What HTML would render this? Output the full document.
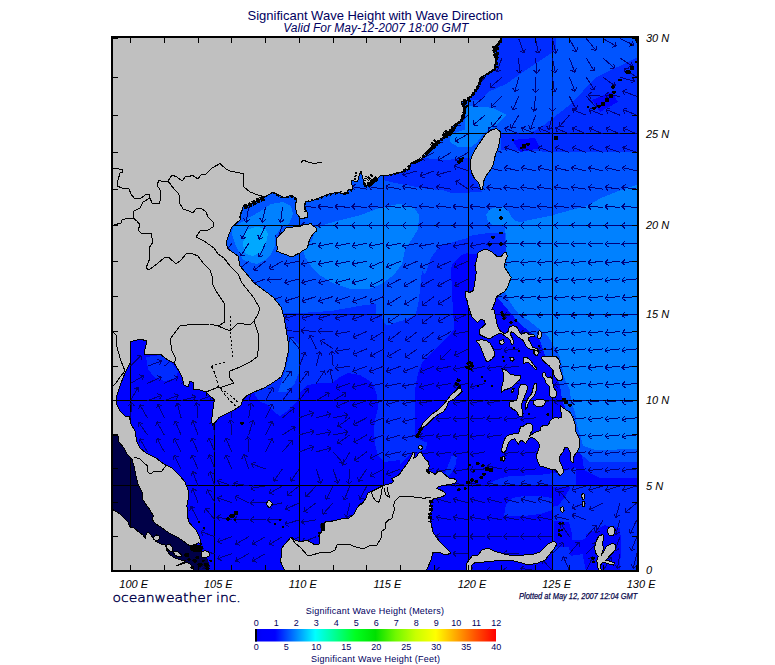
<!DOCTYPE html>
<html lang="en"><head><meta charset="utf-8"><title>Significant Wave Height with Wave Direction</title>
<style>
html,body{margin:0;padding:0;background:#fff}
body{width:775px;height:665px;overflow:hidden;position:relative;font-family:"Liberation Sans",sans-serif}
svg{position:absolute;left:0;top:0;display:block}
.t{font-family:"Liberation Sans",sans-serif}
.lab{font-size:11px;font-style:italic;fill:#000}
.cb{font-size:9px;fill:#000060}
.land{fill:#c0c0c0;stroke:#000;stroke-width:1;stroke-linejoin:round}
.bd{fill:none;stroke:#000;stroke-width:1;stroke-linejoin:round;stroke-linecap:round}
.blk{fill:#000;stroke:#000;stroke-width:1;stroke-linejoin:round}
.grid{stroke:#000;stroke-width:1;fill:none}
.ar{stroke:#00007a;stroke-width:1;fill:none;stroke-linecap:butt}
.ow{font-family:"DejaVu Sans","Liberation Sans",sans-serif;font-weight:200}
.tick{stroke:#000;stroke-width:1;fill:none}
</style></head><body>
<svg width="775" height="665" viewBox="0 0 775 665">
<defs><clipPath id="mapclip"><rect x="112" y="37" width="526" height="534"/></clipPath>
<linearGradient id="cbg" x1="0" x2="1" y1="0" y2="0"><stop offset="0.0000" stop-color="#0000ec"/><stop offset="0.0292" stop-color="#0000fc"/><stop offset="0.0833" stop-color="#0000ff"/><stop offset="0.1667" stop-color="#0080ff"/><stop offset="0.2500" stop-color="#00ffff"/><stop offset="0.3333" stop-color="#00ff90"/><stop offset="0.4167" stop-color="#00ff20"/><stop offset="0.5000" stop-color="#00e000"/><stop offset="0.5833" stop-color="#70f800"/><stop offset="0.6667" stop-color="#c8ff00"/><stop offset="0.7500" stop-color="#ffff00"/><stop offset="0.8333" stop-color="#ffa800"/><stop offset="0.9167" stop-color="#ff5000"/><stop offset="1.0000" stop-color="#ff0000"/></linearGradient></defs>
<rect x="0" y="0" width="775" height="665" fill="#fff"/>
<g clip-path="url(#mapclip)" shape-rendering="crispEdges">
<rect x="112" y="37" width="526" height="534" fill="#0003ff"/>
<g shape-rendering="crispEdges">
<polygon fill="#002cff" points="230,150 230,300 255,395 260,402 266,404 274,412 280,416 286,412 292,406 298,400 300,392 308,385 320,383 332,383 340,377 348,373 360,375 368,380 374,386 377,396 378,408 375,420 374,430 375,444 378,456 384,462 400,460 408,454 415,448 415,390 418,373 422,363 428,356.7 437.4,347.4 446.7,338 454.5,329 453,313 451,270 452,264 462,255 474,250 490,262 520,270 530,320 548,345 566,380 570,405 580,440 584,470 600,478 640,478 640,30 400,30"/>
<polygon fill="#002cff" points="490,483 500,478.4 510,476 540,475 560,472 576,468 576,485 552,485 490,485"/>
<polygon fill="#002cff" points="504,516 506,504 512,498 524,496 540,496 552,498 552,510 540,514 524,516"/>
<polygon fill="#002cff" points="451.7,455.6 456.9,456.9 455.6,464.7 451.7,472.4 446.6,477.6 444.6,473.7 447.9,466"/>
<polygon fill="#002cff" points="400,416.8 407.8,418.1 411.6,425.9 414.2,436.2 420.7,440.1 427.2,442.7 425.9,449.2 419.4,451.7 412.9,451.7 407.8,456.9 400,464.7"/>
<polygon fill="#002cff" points="146,357 160,355 170,361 178,371 176,379 164,381 154,377 148,369"/>
<polygon fill="#002cff" points="553,485 640,485 640,572 553,572"/>
<polygon fill="#0003ff" points="552.3,486.9 570.7,486.9 564.5,497.6 558.4,505.3 552.3,506.8"/>
<polygon fill="#0003ff" points="553.8,520.6 569.1,522.1 572.2,534.4 570.7,546.7 553.8,546.7"/>
<polygon fill="#0003ff" points="567.6,540.6 590.6,539 592.1,552.8 570.7,555.9"/>
<polygon fill="#0003ff" points="586,534.4 604.4,525.2 619.8,528.3 621.3,542.1 619.8,572 586,572 582.9,555.9"/>
<polygon fill="#0054ff" points="225,190 225,260 250,290 280,313 300,313 331,311 365,305 375.5,304 375.5,313.4 381.7,314.9 383.2,322.6 387.9,325.7 395.6,322.6 406.5,319.5 415.7,314.9 418.8,301 420.4,285.5 422,270 425,275 430.7,258 439.2,246.6 456.2,241 467.6,238.1 479,246.6 485,252 500,256 506,250 500,212 640,212 640,152 600,152 555,152 501,150 501,133 530,133 540,128 553,118 571,104 595,78 640,56 640,30 400,30 400,150 300,150"/>
<polygon fill="#0054ff" points="500,212 640,212 640,462 590,462 578,452 570,420 562,400 560,385 545,355 540,340 520,324 508,310 498,298 495,285 500,262"/>
<polygon fill="#002cff" points="480,100 470,100 495,60 500,37 556,37 556,50 523,72 506,84 488,92"/>
<polygon fill="#002cff" points="383,176 400,165 424,158 445,160 470,158 471,170 476,180 480,189 482,192 467.6,192.6 450.6,192.6 442,190 427.8,189 411.3,186 394.8,183 383.4,180"/>
<polygon fill="#0054ff" points="284,335 292,338 300,345 300,370 294,385 286,392 278,392 284,375 289,355"/>
<polygon fill="#0081ff" points="317,226.7 336.9,221.1 359.6,215.4 382.3,206.9 399.4,204 413.6,206.9 419.3,215.4 417.9,229.6 410.8,241 405.1,249.5 402.2,263.7 393.7,275.1 382.3,283.6 368.1,289.3 351.1,289.3 334,283.6 319.8,275.1 311.3,266.5 305.6,258 302.7,249.5 311.3,241 315.5,232.4"/>
<polygon fill="#0081ff" points="505.3,252 505.9,241.7 505.3,228.8 506.6,225 495,226 488,222 486,214.6 489.8,209.4 497.5,206.8 504,207.5 509.2,212 511.7,217.2 515.6,221 520.8,222.3 529,220 550,216 560,213 575,209 586.6,206 602,197.6 620,190.5 640,184 640,449 595,450 583,446 581,438 577,425 575,412 571,402 570,390 566,382 563.5,376 562,366 559.5,356 548,336 528,320 520.8,316.3 514.3,308.6 509.2,300.8 504.6,291.7 500,285 500,256"/>
<polygon fill="#0081ff" points="468.1,105.5 492.9,107.9 506.8,114.8 492.9,128 483.6,133.4 477.4,141.9 471.2,147.4 458.8,147.4 449.6,141.9 451.1,134.2 465,129.5 465.8,111"/>
<polygon fill="#0081ff" points="237,225 245,220 259,212 271,204 283,202 291,206 293,214 289,224 281,228 275,236 275,246 271,254 265,260 257,264 249,262 243,260 239,252 235,244 232,234 233,227"/>
<polygon fill="#00a8ff" points="247,230 255,227 265,228 268,234 266,244 261,252 253,256 246,254 243,246 244,236"/>
<polygon fill="#0003ff" points="512,140 535,138 540,148 520,152"/>
<polygon fill="#0003ff" points="592,100 612,92 618,102 600,112"/>
<polygon fill="#000048" points="110,430 125,430 140,450 160,500 170,530 190,546 196,549 200,553 207,558 210,566 206,575 110,575"/>
<polygon fill="#002cff" points="469,236 488,233 505,233 506,252 500,258 494,254 485,251 478,254 469,254"/>
</g>
<path class="grid" shape-rendering="crispEdges" d="M130.5 37V571 M214.9 37V571 M299.3 37V571 M383.7 37V571 M468.1 37V571 M552.5 37V571 M112 485.9H638 M112 400.6H638 M112 314.1H638 M112 225.4H638 M112 133.9H638"/>
<path class="ar" shape-rendering="crispEdges" d="M130.5 417.8L131.9 402.6M131.9 402.6l2.8 3.7M131.9 402.6l-3.4 3.1M130.5 400.6L138.1 387.5M138.1 387.5l1.0 4.5M138.1 387.5l-4.4 1.4M130.5 383.4L143.7 375.8M143.7 375.8l-1.4 4.4M143.7 375.8l-4.5 -1.0M130.5 366.2L141.2 355.5M141.2 355.5l-0.2 4.6M141.2 355.5l-4.6 0.2M147.4 451.9L139.9 438.7M139.9 438.7l4.4 1.5M139.9 438.7l-1.0 4.5M147.4 434.9L138.7 422.4M138.7 422.4l4.5 1.0M138.7 422.4l-0.6 4.6M147.4 417.8L139.8 404.6M139.8 404.6l4.4 1.4M139.8 404.6l-1.0 4.5M147.4 400.6L161.7 395.4M161.7 395.4l-2.2 4.1M161.7 395.4l-4.3 -1.7M147.4 383.4L161.2 377.0M161.2 377.0l-1.8 4.2M161.2 377.0l-4.4 -1.3M147.4 366.2L161.7 361.0M161.7 361.0l-2.2 4.1M161.7 361.0l-4.3 -1.7M164.3 451.9L157.1 438.5M157.1 438.5l4.3 1.6M157.1 438.5l-1.1 4.5M164.3 434.9L156.7 421.7M156.7 421.7l4.4 1.4M156.7 421.7l-1.0 4.5M164.3 417.8L157.8 404.0M157.8 404.0l4.2 1.8M157.8 404.0l-1.3 4.4M164.3 400.6L178.5 395.4M178.5 395.4l-2.2 4.1M178.5 395.4l-4.3 -1.7M164.3 383.4L178.0 377.0M178.0 377.0l-1.8 4.2M178.0 377.0l-4.4 -1.3M164.3 366.2L175.9 356.4M175.9 356.4l-0.6 4.6M175.9 356.4l-4.6 -0.2M181.1 468.9L174.2 455.4M174.2 455.4l4.3 1.6M174.2 455.4l-1.2 4.4M181.1 451.9L174.2 438.4M174.2 438.4l4.3 1.6M174.2 438.4l-1.2 4.4M181.1 434.9L175.0 421.0M175.0 421.0l4.2 1.9M175.0 421.0l-1.4 4.4M181.1 417.8L177.2 403.1M177.2 403.1l3.9 2.5M177.2 403.1l-2.1 4.1M181.1 400.6L195.8 396.7M195.8 396.7l-2.5 3.9M195.8 396.7l-4.1 -2.1M181.1 383.4L195.4 378.2M195.4 378.2l-2.2 4.1M195.4 378.2l-4.3 -1.7M198.0 519.8L190.9 506.4M190.9 506.4l4.3 1.6M190.9 506.4l-1.1 4.5M198.0 502.8L192.8 488.6M192.8 488.6l4.1 2.2M192.8 488.6l-1.7 4.3M198.0 485.9L192.8 471.6M192.8 471.6l4.1 2.2M192.8 471.6l-1.7 4.3M198.0 468.9L191.8 455.0M191.8 455.0l4.2 1.9M191.8 455.0l-1.4 4.4M198.0 451.9L191.8 438.0M191.8 438.0l4.2 1.9M191.8 438.0l-1.4 4.4M198.0 434.9L192.8 420.6M192.8 420.6l4.1 2.2M192.8 420.6l-1.7 4.3M198.0 417.8L196.7 402.6M196.7 402.6l3.4 3.1M196.7 402.6l-2.8 3.7M198.0 400.6L212.3 395.4M212.3 395.4l-2.2 4.1M212.3 395.4l-4.3 -1.7M214.9 570.5L199.8 569.2M199.8 569.2l3.7 -2.8M199.8 569.2l3.1 3.4M214.9 553.6L199.9 551.0M199.9 551.0l3.9 -2.4M199.9 551.0l2.8 3.6M214.9 536.7L200.6 531.5M200.6 531.5l4.3 -1.7M200.6 531.5l2.2 4.1M214.9 519.8L205.1 508.1M205.1 508.1l4.6 0.6M205.1 508.1l-0.2 4.6M214.9 502.8L207.3 489.7M207.3 489.7l4.4 1.4M207.3 489.7l-1.0 4.5M214.9 485.9L209.7 471.6M209.7 471.6l4.1 2.2M209.7 471.6l-1.7 4.3M214.9 468.9L209.2 454.8M209.2 454.8l4.1 2.0M209.2 454.8l-1.6 4.3M214.9 451.9L208.7 438.0M208.7 438.0l4.2 1.9M208.7 438.0l-1.4 4.4M214.9 434.9L212.3 419.9M212.3 419.9l3.6 2.8M212.3 419.9l-2.4 3.9M231.8 570.5L217.1 574.4M217.1 574.4l2.5 -3.9M217.1 574.4l4.1 2.1M231.8 553.6L217.5 558.8M217.5 558.8l2.2 -4.1M217.5 558.8l4.3 1.7M231.8 536.7L217.5 541.9M217.5 541.9l2.2 -4.1M217.5 541.9l4.3 1.7M231.8 519.8L216.8 517.1M216.8 517.1l3.9 -2.4M216.8 517.1l2.8 3.6M231.8 502.8L217.5 497.6M217.5 497.6l4.3 -1.7M217.5 497.6l2.2 4.1M231.8 485.9L217.5 480.7M217.5 480.7l4.3 -1.7M217.5 480.7l2.2 4.1M231.8 468.9L225.8 454.9M225.8 454.9l4.2 1.9M225.8 454.9l-1.5 4.3M231.8 451.9L225.8 437.9M225.8 437.9l4.2 1.9M225.8 437.9l-1.5 4.3M231.8 434.9L230.7 419.7M230.7 419.7l3.3 3.2M230.7 419.7l-2.8 3.6M231.8 417.8L231.2 402.6M231.2 402.6l3.2 3.3M231.2 402.6l-3.0 3.5M231.8 243.3L223.1 255.9M223.1 255.9l-0.6 -4.6M223.1 255.9l4.5 -1.1M248.7 570.5L234.9 577.0M234.9 577.0l1.8 -4.2M234.9 577.0l4.4 1.3M248.7 553.6L235.5 561.2M235.5 561.2l1.4 -4.4M235.5 561.2l4.5 1.0M248.7 536.7L235.5 544.3M235.5 544.3l1.4 -4.4M235.5 544.3l4.5 1.0M248.7 519.8L233.5 519.8M233.5 519.8l3.4 -3.1M233.5 519.8l3.4 3.1M248.7 502.8L235.0 496.2M235.0 496.2l4.4 -1.3M235.0 496.2l1.7 4.3M248.7 485.9L233.7 483.3M233.7 483.3l3.9 -2.4M233.7 483.3l2.8 3.6M248.7 468.9L243.7 454.5M243.7 454.5l4.0 2.2M243.7 454.5l-1.8 4.2M248.7 451.9L247.9 436.7M247.9 436.7l3.3 3.3M247.9 436.7l-2.9 3.6M248.7 434.9L253.1 420.3M253.1 420.3l1.9 4.2M253.1 420.3l-3.9 2.4M248.7 417.8L251.3 402.8M251.3 402.8l2.4 3.9M251.3 402.8l-3.6 2.8M248.7 400.6L253.4 386.2M253.4 386.2l1.9 4.2M253.4 386.2l-4.0 2.3M248.7 261.2L237.0 270.9M237.0 270.9l0.6 -4.6M237.0 270.9l4.6 0.2M248.7 243.3L240.6 256.2M240.6 256.2l-0.8 -4.5M240.6 256.2l4.4 -1.3M248.7 225.4L241.8 239.0M241.8 239.0l-1.2 -4.4M241.8 239.0l4.3 -1.6M248.7 207.4L246.0 222.3M246.0 222.3l-2.4 -3.9M246.0 222.3l3.6 -2.8M265.5 570.5L252.1 577.6M252.1 577.6l1.6 -4.3M252.1 577.6l4.5 1.1M265.5 553.6L252.4 561.2M252.4 561.2l1.4 -4.4M252.4 561.2l4.5 1.0M265.5 536.7L252.4 544.3M252.4 544.3l1.4 -4.4M252.4 544.3l4.5 1.0M265.5 519.8L250.3 519.8M250.3 519.8l3.4 -3.1M250.3 519.8l3.4 3.1M265.5 502.8L250.3 502.8M250.3 502.8l3.4 -3.1M250.3 502.8l3.4 3.1M265.5 485.9L250.6 488.5M250.6 488.5l2.8 -3.6M250.6 488.5l3.9 2.4M265.5 468.9L251.3 463.7M251.3 463.7l4.3 -1.7M251.3 463.7l2.2 4.1M265.5 451.9L272.4 438.4M272.4 438.4l1.2 4.4M272.4 438.4l-4.3 1.6M265.5 434.9L272.4 421.3M272.4 421.3l1.2 4.4M272.4 421.3l-4.3 1.6M265.5 417.8L272.4 404.2M272.4 404.2l1.2 4.4M272.4 404.2l-4.3 1.6M265.5 400.6L272.9 387.3M272.9 387.3l1.0 4.5M272.9 387.3l-4.3 1.5M265.5 278.9L251.3 284.1M251.3 284.1l2.2 -4.1M251.3 284.1l4.3 1.7M265.5 261.2L253.6 270.5M253.6 270.5l0.8 -4.5M253.6 270.5l4.6 0.3M265.5 243.3L259.1 257.1M259.1 257.1l-1.3 -4.4M259.1 257.1l4.2 -1.8M265.5 225.4L259.1 239.2M259.1 239.2l-1.3 -4.4M259.1 239.2l4.2 -1.8M265.5 207.4L262.1 222.2M262.1 222.2l-2.2 -4.0M262.1 222.2l3.8 -2.6M282.4 570.5L269.0 577.7M269.0 577.7l1.5 -4.3M269.0 577.7l4.5 1.1M282.4 536.7L269.4 544.5M269.4 544.5l1.3 -4.4M269.4 544.5l4.5 0.9M282.4 519.8L267.2 519.8M267.2 519.8l3.4 -3.1M267.2 519.8l3.4 3.1M282.4 502.8L267.6 506.3M267.6 506.3l2.6 -3.8M267.6 506.3l4.0 2.2M282.4 485.9L269.3 493.5M269.3 493.5l1.4 -4.4M269.3 493.5l4.5 1.0M282.4 468.9L273.7 481.4M273.7 481.4l-0.6 -4.6M273.7 481.4l4.5 -1.0M282.4 451.9L292.4 440.4M292.4 440.4l0.1 4.6M292.4 440.4l-4.6 0.6M282.4 434.9L295.3 426.8M295.3 426.8l-1.3 4.4M295.3 426.8l-4.5 -0.8M282.4 417.8L294.1 408.0M294.1 408.0l-0.6 4.6M294.1 408.0l-4.6 -0.2M282.4 400.6L291.6 388.5M291.6 388.5l0.4 4.6M291.6 388.5l-4.5 0.9M282.4 383.4L291.1 371.0M291.1 371.0l0.6 4.6M291.1 371.0l-4.5 1.0M282.4 296.5L268.0 301.2M268.0 301.2l2.3 -4.0M268.0 301.2l4.2 1.9M282.4 278.9L267.3 279.9M267.3 279.9l3.2 -3.3M267.3 279.9l3.6 2.8M282.4 261.2L269.3 268.8M269.3 268.8l1.4 -4.4M269.3 268.8l4.5 1.0M282.4 225.4L277.2 239.7M277.2 239.7l-1.7 -4.3M277.2 239.7l4.1 -2.2M282.4 207.4L280.6 222.5M280.6 222.5l-2.6 -3.8M280.6 222.5l3.5 -3.0M299.3 536.7L286.1 544.3M286.1 544.3l1.4 -4.4M286.1 544.3l4.5 1.0M299.3 519.8L284.8 524.5M284.8 524.5l2.3 -4.0M284.8 524.5l4.2 1.9M299.3 502.8L285.5 509.3M285.5 509.3l1.8 -4.2M285.5 509.3l4.4 1.3M299.3 485.9L287.3 495.3M287.3 495.3l0.8 -4.5M287.3 495.3l4.6 0.3M299.3 468.9L290.6 481.4M290.6 481.4l-0.6 -4.6M290.6 481.4l4.5 -1.0M299.3 451.9L313.6 446.7M313.6 446.7l-2.2 4.1M313.6 446.7l-4.3 -1.7M299.3 434.9L314.0 430.9M314.0 430.9l-2.5 3.9M314.0 430.9l-4.1 -2.1M299.3 417.8L313.6 412.6M313.6 412.6l-2.2 4.1M313.6 412.6l-4.3 -1.7M299.3 400.6L308.4 388.5M308.4 388.5l0.4 4.6M308.4 388.5l-4.5 0.9M299.3 383.4L308.4 371.3M308.4 371.3l0.4 4.6M308.4 371.3l-4.5 0.9M299.3 366.2L305.0 352.1M305.0 352.1l1.6 4.3M305.0 352.1l-4.1 2.0M299.3 348.9L289.7 337.1M289.7 337.1l4.5 0.7M289.7 337.1l-0.2 4.6M299.3 331.5L284.1 330.4M284.1 330.4l3.6 -2.8M284.1 330.4l3.2 3.3M299.3 314.1L284.8 318.5M284.8 318.5l2.4 -3.9M284.8 318.5l4.2 1.9M299.3 296.5L284.8 301.2M284.8 301.2l2.3 -4.0M284.8 301.2l4.2 1.9M299.3 278.9L284.6 282.8M284.6 282.8l2.5 -3.9M284.6 282.8l4.1 2.1M299.3 261.2L284.4 264.1M284.4 264.1l2.8 -3.7M284.4 264.1l3.9 2.4M316.2 536.7L302.1 542.4M302.1 542.4l2.0 -4.1M302.1 542.4l4.3 1.6M316.2 519.8L301.2 522.4M301.2 522.4l2.8 -3.6M301.2 522.4l3.9 2.4M316.2 502.8L303.9 511.8M303.9 511.8l1.0 -4.5M303.9 511.8l4.6 0.5M316.2 485.9L305.8 497.0M305.8 497.0l0.1 -4.6M305.8 497.0l4.6 -0.4M316.2 468.9L320.9 483.4M320.9 483.4l-4.0 -2.3M320.9 483.4l1.9 -4.2M316.2 451.9L330.9 448.0M330.9 448.0l-2.5 3.9M330.9 448.0l-4.1 -2.1M316.2 434.9L331.0 431.7M331.0 431.7l-2.7 3.7M331.0 431.7l-4.0 -2.3M316.2 417.8L330.9 413.8M330.9 413.8l-2.5 3.9M330.9 413.8l-4.1 -2.1M316.2 400.6L329.2 392.8M329.2 392.8l-1.3 4.4M329.2 392.8l-4.5 -0.9M316.2 383.4L324.7 370.8M324.7 370.8l0.6 4.6M324.7 370.8l-4.5 1.1M316.2 366.2L319.9 351.5M319.9 351.5l2.2 4.1M319.9 351.5l-3.8 2.6M316.2 348.9L309.8 335.1M309.8 335.1l4.2 1.8M309.8 335.1l-1.3 4.4M316.2 331.5L301.0 330.4M301.0 330.4l3.6 -2.8M301.0 330.4l3.2 3.3M316.2 314.1L301.6 318.5M301.6 318.5l2.4 -3.9M301.6 318.5l4.2 1.9M316.2 296.5L301.7 301.2M301.7 301.2l2.3 -4.0M301.7 301.2l4.2 1.9M316.2 278.9L301.5 282.8M301.5 282.8l2.5 -3.9M301.5 282.8l4.1 2.1M316.2 261.2L301.3 264.1M301.3 264.1l2.8 -3.7M301.3 264.1l3.9 2.4M316.2 243.3L301.3 246.2M301.3 246.2l2.8 -3.7M301.3 246.2l3.9 2.4M316.2 225.4L301.0 225.4M301.0 225.4l3.4 -3.1M301.0 225.4l3.4 3.1M316.2 207.4L301.0 206.3M301.0 206.3l3.6 -2.8M301.0 206.3l3.2 3.3M333.1 519.8L319.9 527.4M319.9 527.4l1.4 -4.4M319.9 527.4l4.5 1.0M333.1 502.8L322.9 514.1M322.9 514.1l0.0 -4.6M322.9 514.1l4.6 -0.5M333.1 485.9L326.2 499.4M326.2 499.4l-1.2 -4.4M326.2 499.4l4.3 -1.6M333.1 468.9L338.0 483.3M338.0 483.3l-4.0 -2.2M338.0 483.3l1.8 -4.2M333.1 451.9L343.2 463.2M343.2 463.2l-4.6 -0.5M343.2 463.2l-0.0 -4.6M333.1 434.9L348.0 432.0M348.0 432.0l-2.8 3.7M348.0 432.0l-3.9 -2.4M333.1 417.8L348.0 414.9M348.0 414.9l-2.8 3.7M348.0 414.9l-3.9 -2.4M333.1 400.6L346.1 392.8M346.1 392.8l-1.3 4.4M346.1 392.8l-4.5 -0.9M333.1 383.4L329.6 368.6M329.6 368.6l3.8 2.6M329.6 368.6l-2.2 4.0M333.1 366.2L331.7 351.1M331.7 351.1l3.4 3.1M331.7 351.1l-2.8 3.7M333.1 348.9L320.6 340.2M320.6 340.2l4.6 -0.6M320.6 340.2l1.0 4.5M333.1 331.5L317.9 331.0M317.9 331.0l3.5 -3.0M317.9 331.0l3.3 3.2M333.1 314.1L318.5 318.5M318.5 318.5l2.4 -3.9M318.5 318.5l4.2 1.9M333.1 296.5L318.6 301.2M318.6 301.2l2.3 -4.0M318.6 301.2l4.2 1.9M333.1 278.9L318.4 282.8M318.4 282.8l2.5 -3.9M318.4 282.8l4.1 2.1M333.1 261.2L318.1 264.1M318.1 264.1l2.8 -3.7M318.1 264.1l3.9 2.4M333.1 243.3L318.1 246.2M318.1 246.2l2.8 -3.7M318.1 246.2l3.9 2.4M333.1 225.4L317.9 225.4M317.9 225.4l3.4 -3.1M317.9 225.4l3.4 3.1M333.1 207.4L317.9 206.3M317.9 206.3l3.6 -2.8M317.9 206.3l3.2 3.3M349.9 502.8L346.5 517.7M346.5 517.7l-2.2 -4.0M346.5 517.7l3.8 -2.6M349.9 485.9L344.2 500.0M344.2 500.0l-1.6 -4.3M344.2 500.0l4.1 -2.0M349.9 468.9L348.6 484.1M348.6 484.1l-2.8 -3.7M348.6 484.1l3.4 -3.1M349.9 451.9L342.3 465.1M342.3 465.1l-1.0 -4.5M342.3 465.1l4.4 -1.4M349.9 434.9L337.5 443.6M337.5 443.6l1.0 -4.5M337.5 443.6l4.6 0.6M349.9 417.8L337.6 426.7M337.6 426.7l1.0 -4.5M337.6 426.7l4.6 0.5M349.9 400.6L336.1 406.8M336.1 406.8l1.9 -4.2M336.1 406.8l4.4 1.4M349.9 383.4L335.6 388.4M335.6 388.4l2.2 -4.0M335.6 388.4l4.2 1.8M349.9 366.2L334.9 368.3M334.9 368.3l3.0 -3.5M334.9 368.3l3.8 2.6M349.9 348.9L334.9 351.3M334.9 351.3l2.9 -3.6M334.9 351.3l3.9 2.5M349.9 331.5L335.0 334.1M335.0 334.1l2.8 -3.6M335.0 334.1l3.9 2.4M349.9 314.1L335.4 318.5M335.4 318.5l2.4 -3.9M335.4 318.5l4.2 1.9M349.9 296.5L335.5 301.2M335.5 301.2l2.3 -4.0M335.5 301.2l4.2 1.9M349.9 278.9L335.3 282.8M335.3 282.8l2.5 -3.9M335.3 282.8l4.1 2.1M349.9 261.2L335.0 264.1M335.0 264.1l2.8 -3.7M335.0 264.1l3.9 2.4M349.9 243.3L335.0 246.2M335.0 246.2l2.8 -3.7M335.0 246.2l3.9 2.4M349.9 225.4L334.7 225.4M334.7 225.4l3.4 -3.1M334.7 225.4l3.4 3.1M349.9 207.4L334.8 206.3M334.8 206.3l3.6 -2.8M334.8 206.3l3.2 3.3M366.8 485.9L359.9 499.4M359.9 499.4l-1.2 -4.4M359.9 499.4l4.3 -1.6M366.8 468.9L358.3 481.5M358.3 481.5l-0.6 -4.6M358.3 481.5l4.5 -1.1M366.8 451.9L354.5 460.8M354.5 460.8l1.0 -4.5M354.5 460.8l4.6 0.5M366.8 434.9L353.7 442.5M353.7 442.5l1.4 -4.4M353.7 442.5l4.5 1.0M366.8 417.8L353.3 424.7M353.3 424.7l1.6 -4.3M353.3 424.7l4.4 1.2M366.8 400.6L352.4 405.6M352.4 405.6l2.2 -4.0M352.4 405.6l4.2 1.8M366.8 383.4L352.1 387.4M352.1 387.4l2.5 -3.9M352.1 387.4l4.1 2.1M366.8 366.2L352.6 371.6M352.6 371.6l2.1 -4.1M352.6 371.6l4.3 1.6M366.8 348.9L352.7 354.6M352.7 354.6l2.0 -4.1M352.7 354.6l4.3 1.6M366.8 331.5L352.8 337.4M352.8 337.4l1.9 -4.2M352.8 337.4l4.3 1.5M366.8 314.1L352.5 319.3M352.5 319.3l2.2 -4.1M352.5 319.3l4.3 1.7M366.8 296.5L352.5 301.7M352.5 301.7l2.2 -4.1M352.5 301.7l4.3 1.7M366.8 278.9L352.1 282.8M352.1 282.8l2.5 -3.9M352.1 282.8l4.1 2.1M366.8 261.2L351.9 264.1M351.9 264.1l2.8 -3.7M351.9 264.1l3.9 2.4M366.8 243.3L351.9 246.2M351.9 246.2l2.8 -3.7M351.9 246.2l3.9 2.4M366.8 225.4L351.6 225.4M351.6 225.4l3.4 -3.1M351.6 225.4l3.4 3.1M366.8 207.4L351.7 206.3M351.7 206.3l3.6 -2.8M351.7 206.3l3.2 3.3M366.8 189.2L351.9 186.6M351.9 186.6l3.9 -2.4M351.9 186.6l2.8 3.6M383.7 468.9L370.3 476.1M370.3 476.1l1.6 -4.3M370.3 476.1l4.5 1.1M383.7 451.9L369.9 458.3M369.9 458.3l1.8 -4.2M369.9 458.3l4.4 1.3M383.7 434.9L369.5 440.3M369.5 440.3l2.1 -4.1M369.5 440.3l4.3 1.6M383.7 417.8L369.6 423.5M369.6 423.5l2.0 -4.1M369.6 423.5l4.3 1.6M383.7 400.6L369.0 404.6M369.0 404.6l2.5 -3.9M369.0 404.6l4.1 2.1M383.7 383.4L368.7 386.1M368.7 386.1l2.8 -3.6M368.7 386.1l3.9 2.4M383.7 366.2L369.5 371.6M369.5 371.6l2.1 -4.1M369.5 371.6l4.3 1.6M383.7 348.9L370.4 356.3M370.4 356.3l1.5 -4.3M370.4 356.3l4.5 1.0M383.7 331.5L370.8 339.6M370.8 339.6l1.3 -4.4M370.8 339.6l4.5 0.8M383.7 314.1L369.9 320.5M369.9 320.5l1.8 -4.2M369.9 320.5l4.4 1.3M383.7 296.5L369.7 302.5M369.7 302.5l1.9 -4.2M369.7 302.5l4.3 1.5M383.7 278.9L370.3 286.0M370.3 286.0l1.6 -4.3M370.3 286.0l4.5 1.1M383.7 261.2L369.7 267.1M369.7 267.1l1.9 -4.2M369.7 267.1l4.3 1.5M383.7 243.3L368.8 246.2M368.8 246.2l2.8 -3.7M368.8 246.2l3.9 2.4M383.7 225.4L368.5 225.4M368.5 225.4l3.4 -3.1M368.5 225.4l3.4 3.1M383.7 207.4L368.5 206.3M368.5 206.3l3.6 -2.8M368.5 206.3l3.2 3.3M383.7 189.2L368.7 186.6M368.7 186.6l3.9 -2.4M368.7 186.6l2.8 3.6M400.6 468.9L386.4 474.4M386.4 474.4l2.1 -4.1M386.4 474.4l4.3 1.6M400.6 451.9L385.7 455.1M385.7 455.1l2.7 -3.7M385.7 455.1l4.0 2.3M400.6 434.9L386.0 439.3M386.0 439.3l2.4 -3.9M386.0 439.3l4.2 1.9M400.6 417.8L386.0 422.2M386.0 422.2l2.4 -3.9M386.0 422.2l4.2 1.9M400.6 400.6L385.9 404.6M385.9 404.6l2.5 -3.9M385.9 404.6l4.1 2.1M400.6 383.4L385.6 386.1M385.6 386.1l2.8 -3.6M385.6 386.1l3.9 2.4M400.6 366.2L386.4 371.6M386.4 371.6l2.1 -4.1M386.4 371.6l4.3 1.6M400.6 348.9L387.6 356.7M387.6 356.7l1.3 -4.4M387.6 356.7l4.5 0.9M400.6 331.5L388.6 340.9M388.6 340.9l0.8 -4.5M388.6 340.9l4.6 0.3M400.6 314.1L388.0 322.6M388.0 322.6l1.1 -4.5M388.0 322.6l4.6 0.6M400.6 296.5L387.7 304.6M387.7 304.6l1.3 -4.4M387.7 304.6l4.5 0.8M400.6 278.9L387.2 286.0M387.2 286.0l1.6 -4.3M387.2 286.0l4.5 1.1M400.6 261.2L386.6 267.1M386.6 267.1l1.9 -4.2M386.6 267.1l4.3 1.5M400.6 243.3L385.7 246.2M385.7 246.2l2.8 -3.7M385.7 246.2l3.9 2.4M400.6 225.4L385.4 225.4M385.4 225.4l3.4 -3.1M385.4 225.4l3.4 3.1M400.6 207.4L385.4 206.3M385.4 206.3l3.6 -2.8M385.4 206.3l3.2 3.3M400.6 189.2L385.6 186.6M385.6 186.6l3.9 -2.4M385.6 186.6l2.8 3.6M417.5 451.9L402.6 455.0M402.6 455.0l2.7 -3.7M402.6 455.0l4.0 2.3M417.5 434.9L402.6 438.2M402.6 438.2l2.7 -3.8M402.6 438.2l4.0 2.2M417.5 417.8L402.8 421.7M402.8 421.7l2.5 -3.9M402.8 421.7l4.1 2.1M417.5 400.6L402.6 403.8M402.6 403.8l2.7 -3.7M402.6 403.8l4.0 2.3M417.5 383.4L402.5 386.1M402.5 386.1l2.8 -3.6M402.5 386.1l3.9 2.4M417.5 366.2L403.3 371.6M403.3 371.6l2.1 -4.1M403.3 371.6l4.3 1.6M417.5 348.9L405.0 357.6M405.0 357.6l1.0 -4.5M405.0 357.6l4.6 0.6M417.5 331.5L405.5 340.9M405.5 340.9l0.8 -4.5M405.5 340.9l4.6 0.3M417.5 314.1L404.9 322.6M404.9 322.6l1.1 -4.5M404.9 322.6l4.6 0.6M417.5 296.5L404.6 304.6M404.6 304.6l1.3 -4.4M404.6 304.6l4.5 0.8M417.5 278.9L404.0 286.0M404.0 286.0l1.6 -4.3M404.0 286.0l4.5 1.1M417.5 261.2L403.5 267.1M403.5 267.1l1.9 -4.2M403.5 267.1l4.3 1.5M417.5 243.3L402.5 246.2M402.5 246.2l2.8 -3.7M402.5 246.2l3.9 2.4M417.5 225.4L402.3 225.4M402.3 225.4l3.4 -3.1M402.3 225.4l3.4 3.1M417.5 207.4L402.3 206.3M402.3 206.3l3.6 -2.8M402.3 206.3l3.2 3.3M417.5 189.2L402.5 186.6M402.5 186.6l3.9 -2.4M402.5 186.6l2.8 3.6M417.5 170.9L402.8 174.9M402.8 174.9l2.5 -3.9M402.8 174.9l4.1 2.1M434.3 570.5L419.1 570.4M419.1 570.4l3.4 -3.1M419.1 570.4l3.4 3.1M434.3 553.6L419.1 553.6M419.1 553.6l3.4 -3.1M419.1 553.6l3.4 3.1M434.3 519.8L419.4 517.1M419.4 517.1l3.9 -2.4M419.4 517.1l2.8 3.6M434.3 502.8L419.7 498.9M419.7 498.9l4.1 -2.1M419.7 498.9l2.5 3.9M434.3 468.9L419.2 469.6M419.2 469.6l3.3 -3.2M419.2 469.6l3.5 2.9M434.3 451.9L419.4 454.5M419.4 454.5l2.8 -3.6M419.4 454.5l3.9 2.4M434.3 434.9L419.3 436.7M419.3 436.7l3.0 -3.5M419.3 436.7l3.8 2.6M434.3 400.6L419.4 403.3M419.4 403.3l2.8 -3.6M419.4 403.3l3.9 2.4M434.3 383.4L419.6 387.1M419.6 387.1l2.6 -3.8M419.6 387.1l4.1 2.2M434.3 366.2L420.2 371.9M420.2 371.9l2.0 -4.1M420.2 371.9l4.3 1.6M434.3 348.9L422.4 358.2M422.4 358.2l0.8 -4.5M422.4 358.2l4.6 0.3M434.3 331.5L422.5 341.1M422.5 341.1l0.7 -4.5M422.5 341.1l4.6 0.2M434.3 314.1L422.2 323.2M422.2 323.2l0.9 -4.5M422.2 323.2l4.6 0.4M434.3 296.5L422.0 305.4M422.0 305.4l1.0 -4.5M422.0 305.4l4.6 0.5M434.3 278.9L420.9 286.0M420.9 286.0l1.6 -4.3M420.9 286.0l4.5 1.1M434.3 261.2L420.3 267.1M420.3 267.1l1.9 -4.2M420.3 267.1l4.3 1.5M434.3 243.3L419.4 246.2M419.4 246.2l2.8 -3.7M419.4 246.2l3.9 2.4M434.3 225.4L419.1 225.4M419.1 225.4l3.4 -3.1M419.1 225.4l3.4 3.1M434.3 207.4L419.2 206.3M419.2 206.3l3.6 -2.8M419.2 206.3l3.2 3.3M434.3 189.2L419.4 186.6M419.4 186.6l3.9 -2.4M419.4 186.6l2.8 3.6M434.3 170.9L420.1 176.1M420.1 176.1l2.2 -4.1M420.1 176.1l4.3 1.7M434.3 152.5L420.6 158.9M420.6 158.9l1.8 -4.2M420.6 158.9l4.4 1.3M451.2 570.5L436.0 570.4M436.0 570.4l3.4 -3.1M436.0 570.4l3.4 3.1M451.2 536.7L436.0 536.4M436.0 536.4l3.5 -3.0M436.0 536.4l3.4 3.1M451.2 519.8L436.3 517.1M436.3 517.1l3.9 -2.4M436.3 517.1l2.8 3.6M451.2 502.8L436.5 498.9M436.5 498.9l4.1 -2.1M436.5 498.9l2.5 3.9M451.2 485.9L436.4 482.7M436.4 482.7l4.0 -2.3M436.4 482.7l2.7 3.7M451.2 468.9L436.3 471.6M436.3 471.6l2.8 -3.6M436.3 471.6l3.9 2.4M451.2 451.9L436.3 454.5M436.3 454.5l2.8 -3.6M436.3 454.5l3.9 2.4M451.2 434.9L436.1 436.7M436.1 436.7l3.0 -3.5M436.1 436.7l3.8 2.6M451.2 417.8L436.1 419.1M436.1 419.1l3.1 -3.4M436.1 419.1l3.7 2.8M451.2 383.4L436.3 386.1M436.3 386.1l2.8 -3.6M436.3 386.1l3.9 2.4M451.2 366.2L436.4 369.4M436.4 369.4l2.7 -3.7M436.4 369.4l4.0 2.3M451.2 348.9L440.3 359.4M440.3 359.4l0.3 -4.6M440.3 359.4l4.6 -0.2M451.2 331.5L437.9 338.9M437.9 338.9l1.5 -4.3M437.9 338.9l4.5 1.0M451.2 314.1L438.1 321.7M438.1 321.7l1.4 -4.4M438.1 321.7l4.5 1.0M451.2 296.5L438.1 304.1M438.1 304.1l1.4 -4.4M438.1 304.1l4.5 1.0M451.2 278.9L437.8 286.0M437.8 286.0l1.6 -4.3M437.8 286.0l4.5 1.1M451.2 261.2L437.2 267.1M437.2 267.1l1.9 -4.2M437.2 267.1l4.3 1.5M451.2 243.3L436.3 246.2M436.3 246.2l2.8 -3.7M436.3 246.2l3.9 2.4M451.2 225.4L436.0 225.4M436.0 225.4l3.4 -3.1M436.0 225.4l3.4 3.1M451.2 207.4L436.1 206.3M436.1 206.3l3.6 -2.8M436.1 206.3l3.2 3.3M451.2 189.2L436.3 186.6M436.3 186.6l3.9 -2.4M436.3 186.6l2.8 3.6M451.2 170.9L436.5 174.9M436.5 174.9l2.5 -3.9M436.5 174.9l4.1 2.1M451.2 152.5L438.1 160.1M438.1 160.1l1.4 -4.4M438.1 160.1l4.5 1.0M451.2 133.9L438.1 141.5M438.1 141.5l1.4 -4.4M438.1 141.5l4.5 1.0M468.1 553.6L452.9 553.6M452.9 553.6l3.4 -3.1M452.9 553.6l3.4 3.1M468.1 536.7L452.9 536.4M452.9 536.4l3.5 -3.0M452.9 536.4l3.4 3.1M468.1 519.8L453.1 517.1M453.1 517.1l3.9 -2.4M453.1 517.1l2.8 3.6M468.1 502.8L453.4 498.9M453.4 498.9l4.1 -2.1M453.4 498.9l2.5 3.9M468.1 485.9L453.2 482.7M453.2 482.7l4.0 -2.3M453.2 482.7l2.7 3.7M468.1 468.9L453.1 471.6M453.1 471.6l2.8 -3.6M453.1 471.6l3.9 2.4M468.1 451.9L453.1 454.5M453.1 454.5l2.8 -3.6M453.1 454.5l3.9 2.4M468.1 434.9L453.0 436.7M453.0 436.7l3.0 -3.5M453.0 436.7l3.8 2.6M468.1 417.8L453.0 419.1M453.0 419.1l3.1 -3.4M453.0 419.1l3.7 2.8M468.1 400.6L453.1 403.3M453.1 403.3l2.8 -3.6M453.1 403.3l3.9 2.4M468.1 383.4L453.1 386.1M453.1 386.1l2.8 -3.6M453.1 386.1l3.9 2.4M468.1 366.2L453.2 369.4M453.2 369.4l2.7 -3.7M453.2 369.4l4.0 2.3M468.1 348.9L454.4 355.6M454.4 355.6l1.7 -4.3M454.4 355.6l4.4 1.3M468.1 331.5L453.1 334.1M453.1 334.1l2.8 -3.6M453.1 334.1l3.9 2.4M468.1 314.1L454.1 319.9M454.1 319.9l2.0 -4.1M454.1 319.9l4.3 1.5M468.1 278.9L454.7 286.0M454.7 286.0l1.6 -4.3M454.7 286.0l4.5 1.1M468.1 261.2L454.1 267.1M454.1 267.1l1.9 -4.2M454.1 267.1l4.3 1.5M468.1 243.3L453.2 246.2M453.2 246.2l2.8 -3.7M453.2 246.2l3.9 2.4M468.1 225.4L452.9 225.4M452.9 225.4l3.4 -3.1M452.9 225.4l3.4 3.1M468.1 207.4L452.9 206.3M452.9 206.3l3.6 -2.8M452.9 206.3l3.2 3.3M468.1 189.2L455.6 180.5M455.6 180.5l4.6 -0.6M455.6 180.5l1.0 4.5M468.1 170.9L453.8 165.7M453.8 165.7l4.3 -1.7M453.8 165.7l2.2 4.1M468.1 152.5L454.9 160.1M454.9 160.1l1.4 -4.4M454.9 160.1l4.5 1.0M468.1 133.9L455.0 141.5M455.0 141.5l1.4 -4.4M455.0 141.5l4.5 0.9M468.1 115.2L456.5 125.0M456.5 125.0l0.6 -4.6M456.5 125.0l4.6 0.2M485.0 570.5L469.8 570.3M469.8 570.3l3.5 -3.0M469.8 570.3l3.4 3.1M485.0 536.7L469.8 536.4M469.8 536.4l3.5 -3.0M469.8 536.4l3.4 3.1M485.0 519.8L470.0 517.1M470.0 517.1l3.9 -2.4M470.0 517.1l2.8 3.6M485.0 502.8L470.3 498.9M470.3 498.9l4.1 -2.1M470.3 498.9l2.5 3.9M485.0 485.9L470.1 482.7M470.1 482.7l4.0 -2.3M470.1 482.7l2.7 3.7M485.0 468.9L469.8 470.0M469.8 470.0l3.2 -3.3M469.8 470.0l3.6 2.8M485.0 451.9L470.0 454.5M470.0 454.5l2.8 -3.6M470.0 454.5l3.9 2.4M485.0 434.9L469.9 436.7M469.9 436.7l3.0 -3.5M469.9 436.7l3.8 2.6M485.0 417.8L469.8 419.1M469.8 419.1l3.1 -3.4M469.8 419.1l3.7 2.8M485.0 400.6L470.0 403.3M470.0 403.3l2.8 -3.6M470.0 403.3l3.9 2.4M485.0 383.4L470.2 387.1M470.2 387.1l2.6 -3.8M470.2 387.1l4.1 2.2M485.0 366.2L470.2 369.7M470.2 369.7l2.6 -3.8M470.2 369.7l4.0 2.2M485.0 243.3L470.1 246.2M470.1 246.2l2.8 -3.7M470.1 246.2l3.9 2.4M485.0 225.4L469.8 225.4M469.8 225.4l3.4 -3.1M469.8 225.4l3.4 3.1M485.0 207.4L469.8 206.3M469.8 206.3l3.6 -2.8M469.8 206.3l3.2 3.3M485.0 189.2L470.0 186.6M470.0 186.6l3.9 -2.4M470.0 186.6l2.8 3.6M485.0 115.2L473.3 125.0M473.3 125.0l0.6 -4.6M473.3 125.0l4.6 0.2M485.0 96.3L473.3 106.1M473.3 106.1l0.6 -4.6M473.3 106.1l4.6 0.2M485.0 77.3L474.4 88.1M474.4 88.1l0.2 -4.6M474.4 88.1l4.6 -0.3M501.9 570.5L486.7 570.2M486.7 570.2l3.5 -3.0M486.7 570.2l3.4 3.1M501.9 536.7L486.7 536.4M486.7 536.4l3.5 -3.0M486.7 536.4l3.4 3.1M501.9 519.8L486.9 517.1M486.9 517.1l3.9 -2.4M486.9 517.1l2.8 3.6M501.9 502.8L487.2 498.9M487.2 498.9l4.1 -2.1M487.2 498.9l2.5 3.9M501.9 485.9L487.0 482.7M487.0 482.7l4.0 -2.3M487.0 482.7l2.7 3.7M501.9 468.9L487.0 465.9M487.0 465.9l4.0 -2.3M487.0 465.9l2.7 3.7M501.9 434.9L486.8 436.7M486.8 436.7l3.0 -3.5M486.8 436.7l3.8 2.6M501.9 417.8L486.7 419.1M486.7 419.1l3.1 -3.4M486.7 419.1l3.7 2.8M501.9 400.6L486.9 403.3M486.9 403.3l2.8 -3.6M486.9 403.3l3.9 2.4M501.9 366.2L486.8 368.4M486.8 368.4l2.9 -3.5M486.8 368.4l3.8 2.5M501.9 348.9L486.8 350.9M486.8 350.9l3.0 -3.5M486.8 350.9l3.8 2.6M501.9 314.1L486.8 316.0M486.8 316.0l3.0 -3.5M486.8 316.0l3.8 2.6M501.9 296.5L486.8 298.5M486.8 298.5l3.0 -3.5M486.8 298.5l3.8 2.6M501.9 243.3L486.7 244.1M486.7 244.1l3.3 -3.3M486.7 244.1l3.6 2.9M501.9 225.4L486.7 225.4M486.7 225.4l3.4 -3.1M486.7 225.4l3.4 3.1M501.9 207.4L486.7 206.3M486.7 206.3l3.6 -2.8M486.7 206.3l3.2 3.3M501.9 189.2L486.8 187.1M486.8 187.1l3.8 -2.6M486.8 187.1l3.0 3.5M501.9 170.9L487.0 167.5M487.0 167.5l4.0 -2.2M487.0 167.5l2.6 3.8M501.9 152.5L487.6 147.3M487.6 147.3l4.3 -1.7M487.6 147.3l2.2 4.1M501.9 133.9L487.9 128.0M487.9 128.0l4.3 -1.5M487.9 128.0l1.9 4.2M501.9 115.2L492.1 126.8M492.1 126.8l-0.2 -4.6M492.1 126.8l4.6 -0.6M501.9 96.3L491.1 107.1M491.1 107.1l0.2 -4.6M491.1 107.1l4.6 -0.2M501.9 77.3L490.4 87.2M490.4 87.2l0.6 -4.6M490.4 87.2l4.6 0.1M501.9 58.0L496.7 72.3M496.7 72.3l-1.7 -4.3M496.7 72.3l4.1 -2.2M518.7 570.5L503.5 570.0M503.5 570.0l3.5 -3.0M503.5 570.0l3.3 3.2M518.7 553.6L503.5 553.6M503.5 553.6l3.4 -3.1M503.5 553.6l3.4 3.1M518.7 536.7L503.5 536.4M503.5 536.4l3.5 -3.0M503.5 536.4l3.4 3.1M518.7 519.8L503.8 517.1M503.8 517.1l3.9 -2.4M503.8 517.1l2.8 3.6M518.7 502.8L504.1 498.9M504.1 498.9l4.1 -2.1M504.1 498.9l2.5 3.9M518.7 485.9L503.9 482.7M503.9 482.7l4.0 -2.3M503.9 482.7l2.7 3.7M518.7 468.9L503.6 470.5M503.6 470.5l3.1 -3.4M503.6 470.5l3.7 2.7M518.7 451.9L503.6 453.5M503.6 453.5l3.1 -3.4M503.6 453.5l3.7 2.7M518.7 417.8L503.6 419.4M503.6 419.4l3.1 -3.4M503.6 419.4l3.7 2.7M518.7 383.4L503.6 385.0M503.6 385.0l3.1 -3.4M503.6 385.0l3.7 2.7M518.7 366.2L503.6 367.8M503.6 367.8l3.1 -3.4M503.6 367.8l3.7 2.7M518.7 348.9L503.6 350.5M503.6 350.5l3.1 -3.4M503.6 350.5l3.7 2.7M518.7 314.1L503.6 315.6M503.6 315.6l3.1 -3.4M503.6 315.6l3.7 2.7M518.7 296.5L503.6 298.1M503.6 298.1l3.1 -3.4M503.6 298.1l3.7 2.7M518.7 278.9L503.6 280.5M503.6 280.5l3.1 -3.4M503.6 280.5l3.7 2.7M518.7 261.2L503.6 262.8M503.6 262.8l3.1 -3.4M503.6 262.8l3.7 2.7M518.7 243.3L503.6 244.1M503.6 244.1l3.3 -3.3M503.6 244.1l3.6 2.9M518.7 225.4L503.5 225.4M503.5 225.4l3.4 -3.1M503.5 225.4l3.4 3.1M518.7 207.4L503.6 206.3M503.6 206.3l3.6 -2.8M503.6 206.3l3.2 3.3M518.7 189.2L503.7 187.1M503.7 187.1l3.8 -2.6M503.7 187.1l3.0 3.5M518.7 170.9L503.9 167.5M503.9 167.5l4.0 -2.2M503.9 167.5l2.6 3.8M518.7 152.5L504.5 147.3M504.5 147.3l4.3 -1.7M504.5 147.3l2.2 4.1M518.7 133.9L504.7 128.0M504.7 128.0l4.3 -1.5M504.7 128.0l1.9 4.2M518.7 115.2L511.1 128.4M511.1 128.4l-1.0 -4.5M511.1 128.4l4.4 -1.4M518.7 96.3L512.6 110.2M512.6 110.2l-1.4 -4.4M512.6 110.2l4.2 -1.9M518.7 77.3L514.8 91.9M514.8 91.9l-2.1 -4.1M514.8 91.9l3.9 -2.5M518.7 58.0L519.5 73.2M519.5 73.2l-3.3 -3.3M519.5 73.2l2.9 -3.6M518.7 38.6L523.9 52.9M523.9 52.9l-4.1 -2.2M523.9 52.9l1.7 -4.3M535.6 570.5L520.6 568.3M520.6 568.3l3.8 -2.5M520.6 568.3l2.9 3.5M535.6 536.7L520.4 536.4M520.4 536.4l3.5 -3.0M520.4 536.4l3.4 3.1M535.6 519.8L520.7 517.1M520.7 517.1l3.9 -2.4M520.7 517.1l2.8 3.6M535.6 502.8L520.9 498.9M520.9 498.9l4.1 -2.1M520.9 498.9l2.5 3.9M535.6 485.9L520.8 482.7M520.8 482.7l4.0 -2.3M520.8 482.7l2.7 3.7M535.6 468.9L520.5 470.5M520.5 470.5l3.1 -3.4M520.5 470.5l3.7 2.7M535.6 451.9L520.5 453.5M520.5 453.5l3.1 -3.4M520.5 453.5l3.7 2.7M535.6 417.8L520.5 419.4M520.5 419.4l3.1 -3.4M520.5 419.4l3.7 2.7M535.6 331.5L520.5 333.1M520.5 333.1l3.1 -3.4M520.5 333.1l3.7 2.7M535.6 314.1L520.5 315.6M520.5 315.6l3.1 -3.4M520.5 315.6l3.7 2.7M535.6 296.5L520.5 298.1M520.5 298.1l3.1 -3.4M520.5 298.1l3.7 2.7M535.6 278.9L520.5 280.5M520.5 280.5l3.1 -3.4M520.5 280.5l3.7 2.7M535.6 261.2L520.5 262.8M520.5 262.8l3.1 -3.4M520.5 262.8l3.7 2.7M535.6 243.3L520.4 244.1M520.4 244.1l3.3 -3.3M520.4 244.1l3.6 2.9M535.6 225.4L520.4 225.4M520.4 225.4l3.4 -3.1M520.4 225.4l3.4 3.1M535.6 207.4L520.5 206.3M520.5 206.3l3.6 -2.8M520.5 206.3l3.2 3.3M535.6 189.2L520.6 187.1M520.6 187.1l3.8 -2.6M520.6 187.1l3.0 3.5M535.6 170.9L520.8 167.5M520.8 167.5l4.0 -2.2M520.8 167.5l2.6 3.8M535.6 152.5L521.3 147.3M521.3 147.3l4.3 -1.7M521.3 147.3l2.2 4.1M535.6 133.9L521.6 128.0M521.6 128.0l4.3 -1.5M521.6 128.0l1.9 4.2M535.6 115.2L530.4 129.5M530.4 129.5l-1.7 -4.3M530.4 129.5l4.1 -2.2M535.6 96.3L533.8 111.4M533.8 111.4l-2.6 -3.8M533.8 111.4l3.5 -3.0M535.6 77.3L535.6 92.5M535.6 92.5l-3.1 -3.4M535.6 92.5l3.1 -3.4M535.6 58.0L536.9 73.2M536.9 73.2l-3.4 -3.1M536.9 73.2l2.8 -3.7M535.6 38.6L538.5 53.5M538.5 53.5l-3.7 -2.8M538.5 53.5l2.4 -3.9M552.5 570.5L542.0 559.5M542.0 559.5l4.6 0.3M542.0 559.5l0.1 4.6M552.5 553.6L563.2 542.9M563.2 542.9l-0.2 4.6M563.2 542.9l-4.6 0.2M552.5 536.7L537.3 536.4M537.3 536.4l3.5 -3.0M537.3 536.4l3.4 3.1M552.5 519.8L537.5 517.1M537.5 517.1l3.9 -2.4M537.5 517.1l2.8 3.6M552.5 502.8L537.8 498.9M537.8 498.9l4.1 -2.1M537.8 498.9l2.5 3.9M552.5 485.9L537.6 482.7M537.6 482.7l4.0 -2.3M537.6 482.7l2.7 3.7M552.5 400.6L537.4 402.2M537.4 402.2l3.1 -3.4M537.4 402.2l3.7 2.7M552.5 348.9L537.4 350.5M537.4 350.5l3.1 -3.4M537.4 350.5l3.7 2.7M552.5 331.5L537.4 333.1M537.4 333.1l3.1 -3.4M537.4 333.1l3.7 2.7M552.5 314.1L537.4 315.6M537.4 315.6l3.1 -3.4M537.4 315.6l3.7 2.7M552.5 296.5L537.4 298.1M537.4 298.1l3.1 -3.4M537.4 298.1l3.7 2.7M552.5 278.9L537.4 280.5M537.4 280.5l3.1 -3.4M537.4 280.5l3.7 2.7M552.5 261.2L537.4 262.8M537.4 262.8l3.1 -3.4M537.4 262.8l3.7 2.7M552.5 243.3L537.3 244.1M537.3 244.1l3.3 -3.3M537.3 244.1l3.6 2.9M552.5 225.4L537.3 225.4M537.3 225.4l3.4 -3.1M537.3 225.4l3.4 3.1M552.5 207.4L537.3 206.3M537.3 206.3l3.6 -2.8M537.3 206.3l3.2 3.3M552.5 189.2L537.4 187.1M537.4 187.1l3.8 -2.6M537.4 187.1l3.0 3.5M552.5 170.9L537.7 167.5M537.7 167.5l4.0 -2.2M537.7 167.5l2.6 3.8M552.5 152.5L538.2 147.3M538.2 147.3l4.3 -1.7M538.2 147.3l2.2 4.1M552.5 133.9L538.5 128.0M538.5 128.0l4.3 -1.5M538.5 128.0l1.9 4.2M552.5 115.2L548.8 129.9M548.8 129.9l-2.2 -4.1M548.8 129.9l3.8 -2.6M552.5 96.3L552.5 111.5M552.5 111.5l-3.1 -3.4M552.5 111.5l3.1 -3.4M552.5 77.3L554.4 92.3M554.4 92.3l-3.5 -3.0M554.4 92.3l2.6 -3.8M552.5 58.0L555.4 72.9M555.4 72.9l-3.7 -2.8M555.4 72.9l2.4 -3.9M552.5 38.6L555.9 53.4M555.9 53.4l-3.8 -2.6M555.9 53.4l2.2 -4.0M569.4 570.5L563.3 556.6M563.3 556.6l4.2 1.9M563.3 556.6l-1.5 4.4M569.4 553.6L579.2 542.0M579.2 542.0l0.2 4.6M579.2 542.0l-4.6 0.6M569.4 536.7L561.1 523.9M561.1 523.9l4.4 1.2M561.1 523.9l-0.7 4.5M569.4 519.8L554.6 516.4M554.6 516.4l4.0 -2.2M554.6 516.4l2.6 3.8M569.4 502.8L559.6 491.2M559.6 491.2l4.6 0.6M559.6 491.2l-0.2 4.6M569.4 485.9L554.8 490.3M554.8 490.3l2.4 -3.9M554.8 490.3l4.2 1.9M569.4 468.9L554.3 470.5M554.3 470.5l3.1 -3.4M554.3 470.5l3.7 2.7M569.4 400.6L554.3 402.2M554.3 402.2l3.1 -3.4M554.3 402.2l3.7 2.7M569.4 383.4L554.3 385.0M554.3 385.0l3.1 -3.4M554.3 385.0l3.7 2.7M569.4 366.2L554.3 367.8M554.3 367.8l3.1 -3.4M554.3 367.8l3.7 2.7M569.4 348.9L554.3 350.5M554.3 350.5l3.1 -3.4M554.3 350.5l3.7 2.7M569.4 331.5L554.3 333.1M554.3 333.1l3.1 -3.4M554.3 333.1l3.7 2.7M569.4 314.1L554.3 315.6M554.3 315.6l3.1 -3.4M554.3 315.6l3.7 2.7M569.4 296.5L554.3 298.1M554.3 298.1l3.1 -3.4M554.3 298.1l3.7 2.7M569.4 278.9L554.3 280.5M554.3 280.5l3.1 -3.4M554.3 280.5l3.7 2.7M569.4 261.2L554.3 262.8M554.3 262.8l3.1 -3.4M554.3 262.8l3.7 2.7M569.4 243.3L554.2 244.1M554.2 244.1l3.3 -3.3M554.2 244.1l3.6 2.9M569.4 225.4L554.2 225.4M554.2 225.4l3.4 -3.1M554.2 225.4l3.4 3.1M569.4 207.4L554.2 206.3M554.2 206.3l3.6 -2.8M554.2 206.3l3.2 3.3M569.4 189.2L554.3 187.1M554.3 187.1l3.8 -2.6M554.3 187.1l3.0 3.5M569.4 170.9L554.6 167.5M554.6 167.5l4.0 -2.2M554.6 167.5l2.6 3.8M569.4 152.5L555.1 147.3M555.1 147.3l4.3 -1.7M555.1 147.3l2.2 4.1M569.4 133.9L555.4 128.0M555.4 128.0l4.3 -1.5M555.4 128.0l1.9 4.2M569.4 115.2L559.4 126.7M559.4 126.7l-0.1 -4.6M559.4 126.7l4.6 -0.6M569.4 96.3L576.3 109.9M576.3 109.9l-4.3 -1.6M576.3 109.9l1.2 -4.4M569.4 77.3L575.1 91.3M575.1 91.3l-4.1 -2.0M575.1 91.3l1.6 -4.3M569.4 58.0L574.8 72.2M574.8 72.2l-4.1 -2.1M574.8 72.2l1.6 -4.3M569.4 38.6L576.5 52.0M576.5 52.0l-4.3 -1.6M576.5 52.0l1.1 -4.5M586.3 570.5L592.8 556.8M592.8 556.8l1.3 4.4M592.8 556.8l-4.3 1.8M586.3 553.6L597.0 542.9M597.0 542.9l-0.2 4.6M597.0 542.9l-4.6 0.2M586.3 536.7L596.4 525.4M596.4 525.4l0.0 4.6M596.4 525.4l-4.6 0.5M586.3 519.8L572.0 514.6M572.0 514.6l4.3 -1.7M572.0 514.6l2.2 4.1M586.3 502.8L572.0 508.0M572.0 508.0l2.2 -4.1M572.0 508.0l4.3 1.7M586.3 485.9L571.7 490.3M571.7 490.3l2.4 -3.9M571.7 490.3l4.2 1.9M586.3 468.9L571.1 470.5M571.1 470.5l3.1 -3.4M571.1 470.5l3.7 2.7M586.3 451.9L571.1 453.5M571.1 453.5l3.1 -3.4M571.1 453.5l3.7 2.7M586.3 434.9L571.1 436.4M571.1 436.4l3.1 -3.4M571.1 436.4l3.7 2.7M586.3 417.8L571.1 419.4M571.1 419.4l3.1 -3.4M571.1 419.4l3.7 2.7M586.3 400.6L571.1 402.2M571.1 402.2l3.1 -3.4M571.1 402.2l3.7 2.7M586.3 383.4L571.1 385.0M571.1 385.0l3.1 -3.4M571.1 385.0l3.7 2.7M586.3 366.2L571.1 367.8M571.1 367.8l3.1 -3.4M571.1 367.8l3.7 2.7M586.3 348.9L571.1 350.5M571.1 350.5l3.1 -3.4M571.1 350.5l3.7 2.7M586.3 331.5L571.1 333.1M571.1 333.1l3.1 -3.4M571.1 333.1l3.7 2.7M586.3 314.1L571.1 315.6M571.1 315.6l3.1 -3.4M571.1 315.6l3.7 2.7M586.3 296.5L571.1 298.1M571.1 298.1l3.1 -3.4M571.1 298.1l3.7 2.7M586.3 278.9L571.1 280.5M571.1 280.5l3.1 -3.4M571.1 280.5l3.7 2.7M586.3 261.2L571.1 262.8M571.1 262.8l3.1 -3.4M571.1 262.8l3.7 2.7M586.3 243.3L571.1 244.1M571.1 244.1l3.3 -3.3M571.1 244.1l3.6 2.9M586.3 225.4L571.1 225.4M571.1 225.4l3.4 -3.1M571.1 225.4l3.4 3.1M586.3 207.4L571.1 206.3M571.1 206.3l3.6 -2.8M571.1 206.3l3.2 3.3M586.3 189.2L571.2 187.1M571.2 187.1l3.8 -2.6M571.2 187.1l3.0 3.5M586.3 170.9L571.4 167.5M571.4 167.5l4.0 -2.2M571.4 167.5l2.6 3.8M586.3 152.5L572.0 147.3M572.0 147.3l4.3 -1.7M572.0 147.3l2.2 4.1M586.3 133.9L572.3 128.0M572.3 128.0l4.3 -1.5M572.3 128.0l1.9 4.2M586.3 115.2L572.2 109.5M572.2 109.5l4.3 -1.6M572.2 109.5l2.0 4.1M586.3 96.3L596.4 107.6M596.4 107.6l-4.6 -0.5M596.4 107.6l-0.0 -4.6M586.3 77.3L594.5 90.0M594.5 90.0l-4.4 -1.2M594.5 90.0l0.7 -4.5M586.3 58.0L594.1 71.1M594.1 71.1l-4.4 -1.3M594.1 71.1l0.9 -4.5M586.3 38.6L596.0 50.3M596.0 50.3l-4.6 -0.6M596.0 50.3l0.2 -4.6M603.1 570.5L611.1 557.5M611.1 557.5l0.8 4.5M611.1 557.5l-4.4 1.3M603.1 519.8L595.5 532.9M595.5 532.9l-1.0 -4.5M595.5 532.9l4.4 -1.4M603.1 502.8L589.6 509.7M589.6 509.7l1.6 -4.3M589.6 509.7l4.4 1.2M603.1 485.9L588.6 490.3M588.6 490.3l2.4 -3.9M588.6 490.3l4.2 1.9M603.1 468.9L588.0 470.5M588.0 470.5l3.1 -3.4M588.0 470.5l3.7 2.7M603.1 451.9L588.0 453.5M588.0 453.5l3.1 -3.4M588.0 453.5l3.7 2.7M603.1 434.9L588.0 436.4M588.0 436.4l3.1 -3.4M588.0 436.4l3.7 2.7M603.1 417.8L588.0 419.4M588.0 419.4l3.1 -3.4M588.0 419.4l3.7 2.7M603.1 400.6L588.0 402.2M588.0 402.2l3.1 -3.4M588.0 402.2l3.7 2.7M603.1 383.4L588.0 385.0M588.0 385.0l3.1 -3.4M588.0 385.0l3.7 2.7M603.1 366.2L588.0 367.8M588.0 367.8l3.1 -3.4M588.0 367.8l3.7 2.7M603.1 348.9L588.0 350.5M588.0 350.5l3.1 -3.4M588.0 350.5l3.7 2.7M603.1 331.5L588.0 333.1M588.0 333.1l3.1 -3.4M588.0 333.1l3.7 2.7M603.1 314.1L588.0 315.6M588.0 315.6l3.1 -3.4M588.0 315.6l3.7 2.7M603.1 296.5L588.0 298.1M588.0 298.1l3.1 -3.4M588.0 298.1l3.7 2.7M603.1 278.9L588.0 280.5M588.0 280.5l3.1 -3.4M588.0 280.5l3.7 2.7M603.1 261.2L588.0 262.8M588.0 262.8l3.1 -3.4M588.0 262.8l3.7 2.7M603.1 243.3L588.0 244.1M588.0 244.1l3.3 -3.3M588.0 244.1l3.6 2.9M603.1 225.4L587.9 225.4M587.9 225.4l3.4 -3.1M587.9 225.4l3.4 3.1M603.1 207.4L588.0 206.3M588.0 206.3l3.6 -2.8M588.0 206.3l3.2 3.3M603.1 189.2L588.1 187.1M588.1 187.1l3.8 -2.6M588.1 187.1l3.0 3.5M603.1 170.9L588.3 167.5M588.3 167.5l4.0 -2.2M588.3 167.5l2.6 3.8M603.1 152.5L588.9 147.3M588.9 147.3l4.3 -1.7M588.9 147.3l2.2 4.1M603.1 133.9L589.1 128.0M589.1 128.0l4.3 -1.5M589.1 128.0l1.9 4.2M603.1 115.2L589.0 109.5M589.0 109.5l4.3 -1.6M589.0 109.5l2.0 4.1M603.1 96.3L588.0 95.0M588.0 95.0l3.7 -2.8M588.0 95.0l3.1 3.4M603.1 77.3L615.4 86.2M615.4 86.2l-4.6 0.5M615.4 86.2l-1.0 -4.5M603.1 58.0L614.4 68.2M614.4 68.2l-4.6 0.0M614.4 68.2l-0.5 -4.6M603.1 38.6L616.3 46.2M616.3 46.2l-4.5 1.0M616.3 46.2l-1.4 -4.4M620.0 570.5L618.1 585.6M618.1 585.6l-2.6 -3.8M618.1 585.6l3.5 -3.0M620.0 553.6L617.4 568.6M617.4 568.6l-2.4 -3.9M617.4 568.6l3.6 -2.8M620.0 536.7L614.8 551.0M614.8 551.0l-1.7 -4.3M614.8 551.0l4.1 -2.2M620.0 519.8L615.8 534.4M615.8 534.4l-2.0 -4.1M615.8 534.4l3.9 -2.4M620.0 502.8L615.8 517.5M615.8 517.5l-2.0 -4.1M615.8 517.5l3.9 -2.4M620.0 485.9L605.5 490.3M605.5 490.3l2.4 -3.9M605.5 490.3l4.2 1.9M620.0 468.9L604.9 470.5M604.9 470.5l3.1 -3.4M604.9 470.5l3.7 2.7M620.0 451.9L604.9 453.5M604.9 453.5l3.1 -3.4M604.9 453.5l3.7 2.7M620.0 434.9L604.9 436.4M604.9 436.4l3.1 -3.4M604.9 436.4l3.7 2.7M620.0 417.8L604.9 419.4M604.9 419.4l3.1 -3.4M604.9 419.4l3.7 2.7M620.0 400.6L604.9 402.2M604.9 402.2l3.1 -3.4M604.9 402.2l3.7 2.7M620.0 383.4L604.9 385.0M604.9 385.0l3.1 -3.4M604.9 385.0l3.7 2.7M620.0 366.2L604.9 367.8M604.9 367.8l3.1 -3.4M604.9 367.8l3.7 2.7M620.0 348.9L604.9 350.5M604.9 350.5l3.1 -3.4M604.9 350.5l3.7 2.7M620.0 331.5L604.9 333.1M604.9 333.1l3.1 -3.4M604.9 333.1l3.7 2.7M620.0 314.1L604.9 315.6M604.9 315.6l3.1 -3.4M604.9 315.6l3.7 2.7M620.0 296.5L604.9 298.1M604.9 298.1l3.1 -3.4M604.9 298.1l3.7 2.7M620.0 278.9L604.9 280.5M604.9 280.5l3.1 -3.4M604.9 280.5l3.7 2.7M620.0 261.2L604.9 262.8M604.9 262.8l3.1 -3.4M604.9 262.8l3.7 2.7M620.0 243.3L604.8 244.1M604.8 244.1l3.3 -3.3M604.8 244.1l3.6 2.9M620.0 225.4L604.8 225.4M604.8 225.4l3.4 -3.1M604.8 225.4l3.4 3.1M620.0 207.4L604.9 206.3M604.9 206.3l3.6 -2.8M604.9 206.3l3.2 3.3M620.0 189.2L605.0 187.1M605.0 187.1l3.8 -2.6M605.0 187.1l3.0 3.5M620.0 170.9L605.2 167.5M605.2 167.5l4.0 -2.2M605.2 167.5l2.6 3.8M620.0 152.5L605.7 147.3M605.7 147.3l4.3 -1.7M605.7 147.3l2.2 4.1M620.0 133.9L606.0 128.0M606.0 128.0l4.3 -1.5M606.0 128.0l1.9 4.2M620.0 115.2L605.9 109.5M605.9 109.5l4.3 -1.6M605.9 109.5l2.0 4.1M620.0 96.3L604.9 95.0M604.9 95.0l3.7 -2.8M604.9 95.0l3.1 3.4M620.0 77.3L634.7 81.2M634.7 81.2l-4.1 2.1M634.7 81.2l-2.5 -3.9M620.0 58.0L632.6 66.5M632.6 66.5l-4.6 0.6M632.6 66.5l-1.1 -4.5M620.0 38.6L633.8 45.0M633.8 45.0l-4.4 1.3M633.8 45.0l-1.8 -4.2M636.9 570.5L632.4 585.0M632.4 585.0l-1.9 -4.2M632.4 585.0l4.0 -2.3M636.9 553.6L633.2 568.3M633.2 568.3l-2.2 -4.1M633.2 568.3l3.8 -2.6M636.9 536.7L631.2 550.8M631.2 550.8l-1.6 -4.3M631.2 550.8l4.1 -2.0M636.9 519.8L630.2 533.4M630.2 533.4l-1.2 -4.4M630.2 533.4l4.3 -1.7M636.9 502.8L625.2 512.6M625.2 512.6l0.7 -4.6M625.2 512.6l4.6 0.2M636.9 485.9L622.4 490.3M622.4 490.3l2.4 -3.9M622.4 490.3l4.2 1.9M636.9 468.9L621.8 470.5M621.8 470.5l3.1 -3.4M621.8 470.5l3.7 2.7M636.9 451.9L621.8 453.5M621.8 453.5l3.1 -3.4M621.8 453.5l3.7 2.7M636.9 434.9L621.8 436.4M621.8 436.4l3.1 -3.4M621.8 436.4l3.7 2.7M636.9 417.8L621.8 419.4M621.8 419.4l3.1 -3.4M621.8 419.4l3.7 2.7M636.9 400.6L621.8 402.2M621.8 402.2l3.1 -3.4M621.8 402.2l3.7 2.7M636.9 383.4L621.8 385.0M621.8 385.0l3.1 -3.4M621.8 385.0l3.7 2.7M636.9 366.2L621.8 367.8M621.8 367.8l3.1 -3.4M621.8 367.8l3.7 2.7M636.9 348.9L621.8 350.5M621.8 350.5l3.1 -3.4M621.8 350.5l3.7 2.7M636.9 331.5L621.8 333.1M621.8 333.1l3.1 -3.4M621.8 333.1l3.7 2.7M636.9 314.1L621.8 315.6M621.8 315.6l3.1 -3.4M621.8 315.6l3.7 2.7M636.9 296.5L621.8 298.1M621.8 298.1l3.1 -3.4M621.8 298.1l3.7 2.7M636.9 278.9L621.8 280.5M621.8 280.5l3.1 -3.4M621.8 280.5l3.7 2.7M636.9 261.2L621.8 262.8M621.8 262.8l3.1 -3.4M621.8 262.8l3.7 2.7M636.9 243.3L621.7 244.1M621.7 244.1l3.3 -3.3M621.7 244.1l3.6 2.9M636.9 225.4L621.7 225.4M621.7 225.4l3.4 -3.1M621.7 225.4l3.4 3.1M636.9 207.4L621.7 206.3M621.7 206.3l3.6 -2.8M621.7 206.3l3.2 3.3M636.9 189.2L621.8 187.1M621.8 187.1l3.8 -2.6M621.8 187.1l3.0 3.5M636.9 170.9L622.1 167.5M622.1 167.5l4.0 -2.2M622.1 167.5l2.6 3.8M636.9 152.5L622.6 147.3M622.6 147.3l4.3 -1.7M622.6 147.3l2.2 4.1M636.9 133.9L622.9 128.0M622.9 128.0l4.3 -1.5M622.9 128.0l1.9 4.2M636.9 115.2L622.8 109.5M622.8 109.5l4.3 -1.6M622.8 109.5l2.0 4.1M636.9 96.3L622.6 91.1M622.6 91.1l4.3 -1.7M622.6 91.1l2.2 4.1M636.9 77.3L624.3 68.8M624.3 68.8l4.6 -0.6M624.3 68.8l1.1 4.5M636.9 58.0L649.8 66.0M649.8 66.0l-4.5 0.8M649.8 66.0l-1.3 -4.4M636.9 38.6L650.2 45.9M650.2 45.9l-4.5 1.1M650.2 45.9l-1.5 -4.3"/>
<polygon class="land" points="502,37 493,50 497,60 495,70 488,73 480,78 478,86 473,94 468,100 461,102 466,110 462,120 453,126 450,134 442,138 434,146 430,150 422,158 420,160 420,159 411,163 409,169 401,172 389,175 381,175 376,180 369,185 364.4,187 362.6,177 361,171 359.4,175 357.4,182 351,180 353,190 349,189 345,195 339,192 329,194 319,198 311,201 306,201 304,208 307,212 308,217 301,219 297,214 295,206 297,199 291,195 284,198 279,195 273,192 265,197 258,200 250,205 243,207 241,214 240,220 232,227 229,234 226,243 228,249 238,256 240,266 250,278 254,283 265,291 273,297 281,307 284,317 286,329 288,341 289,349 287,357 285,367 282,375 281.8,376.2 274,382 264.2,387.9 254.5,391.8 246.6,395.7 242.7,399.6 240.8,405.5 234.9,409.4 227.1,413.3 219.3,417.2 215.4,422.1 212.5,425 211.5,421.1 212.5,413.3 213.4,405.5 214.4,399.6 209.5,395.7 205.6,391.8 199.8,389.8 193,389 194,383 190,381 188,387 184,385 182,377 179,371 174,363 168,360 160,354 152,355 144,354 145,349 147,341 140,339 130,342 130,363 125,373 121,383 117,395 116,403 120,411 125,416 129,416 131,424 135,431 137,442 140,448 146,453 156,458 164,464 172,468 180,476 185,482 188,490 188,500 187.6,500 186.9,506.5 187.6,511.6 187.6,516.8 188.9,522 192.1,525.9 196,529.8 198.6,534.9 200.5,540.1 201.2,544.6 198.6,542.7 194.7,545.3 190.8,546.6 186.9,544 183,540.8 177.9,537.5 171.4,534.3 166.2,531 161,527.2 155.9,523.9 152.6,520.1 153.3,515.5 149.4,509.1 145.5,503.9 143.6,500 143,500 142,492 138,484 136,476 134,466 132,459 127,454 124,448 119,442 118,436 112,435 110,435 110,35"/>
<polygon class="land" points="112,509 120,514 128,522 130,527.2 133.9,527.8 139.1,532.3 142.9,534.9 145.5,538.8 146.2,533.6 148.1,532.3 151.3,535.6 155.9,541.4 161,544 165.6,545.3 166.9,550.5 170.1,555 175.3,558.2 181.7,560.2 185.6,560.8 181.7,563.4 176.6,566 181.7,564 186.9,562.1 190.8,564.7 193.4,567.3 194.7,572.4 104.1,572.4"/>
<polygon class="land" points="286.6,227.2 291.2,227.6 295.9,226.1 300.5,226.4 304.4,224.1 308.2,224.5 310.2,223.4 311.7,223.7 312.1,225.7 314.4,226.4 316.4,228.4 316.8,231.1 314.4,232.6 312.1,235.3 310.2,238.4 309,241.5 308.2,244.6 307.5,247.7 305.9,249.3 302.8,250.4 299.7,253.2 296.6,254.3 293.5,256.2 290.4,256.6 287.3,255.1 283.5,253.9 279.6,252.4 276.9,251.2 277.3,247 276.1,242.3 276.5,238.4 278.8,236.1 281.2,233.4 284.3,230.7 285.4,228.4"/>
<polygon class="land" points="493.3,129.1 496.7,128.9 500.1,131.4 500.7,134.9 499.6,139.4 499,144 497.9,148.6 495.6,154.3 494.4,158.9 493.3,164.6 491,169.1 488.1,173.1 485.3,177.1 483.6,181.7 483,186.3 482.4,189.1 480.7,189.1 479.6,185.7 477.9,181.7 474.4,178.3 472.1,173.7 470.4,168 470.4,162.3 471.6,156.6 473.9,152 476.7,147.4 479.6,142.9 483,138.3 485.3,134.3 489.3,131.4"/>
<polygon class="land" points="153.9,536.9 156.5,534.9 159.8,536.2 159.5,538.8 156.5,540.8 153.9,539.5"/>
<polygon class="land" points="478.1,252.3 483.3,249.7 487.8,249.7 492.3,252.3 496.9,256.2 501.4,256.2 504.6,252.3 506.6,252.3 507.2,256.2 505.3,260.7 504.6,267.2 507.9,272.3 511.1,277.5 509.2,282.7 507.2,287.9 504.6,291.7 500.1,294.3 496.2,296.9 494.9,302.1 493,307.3 491.7,309.9 493.9,310 495.5,316.2 496.5,322.4 498.1,327 500,330.6 503.9,333.2 507.8,332.9 508.4,329 509.7,326.4 512.9,325.8 516.2,326.7 518.4,329.3 519.4,332.2 521.3,334.2 523.9,333.5 525.2,332.6 527.2,332.9 529.1,334.5 532.3,334.8 534.9,335.1 534.9,336.4 532.3,336.8 529.1,337.1 528.1,338.7 529.1,340.6 530.4,342.9 531.7,345.2 532.3,347.1 534.3,347.8 536.9,348.4 538.2,350.3 538.5,352.9 537.5,355.5 535.6,355.8 534,354.2 533.6,351.6 534.3,349.7 532.3,349.7 529.8,349 527.2,347.4 525.5,345.2 524.6,342.6 522.6,340 520.1,338.1 517.5,336.8 515.5,334.8 513.6,332.6 511.6,331.9 510.3,333.2 511,335.5 512.6,338.7 513.6,341.9 512.9,344.5 511.6,344.8 511,342.6 510.3,340 508.4,338.4 505.8,336.8 503.2,334.8 500,332.9 497.5,334.3 493.4,336.3 490.3,338.4 486.2,337.9 482.1,335.8 480,334.8 479.4,332.6 479.4,329.4 482.6,326.8 485.2,324.2 484.6,321 482,319 479.4,320.3 477.5,322.9 475.5,320.3 471.6,316.5 469.7,310 468.4,307.3 467.1,300.8 465.2,295.6 465.8,291.1 469.7,292.4 473.6,290.5 474.2,285.3 475.5,278.8 476.2,272.3 474.9,265.9 476.8,259.4"/>
<polygon class="land" points="476.2,341 480.7,339.8 485.9,340.4 489.8,343 492.3,346.9 494.3,351.4 494.9,355.3 492.3,358.5 489.1,361.1 486.5,361.7 485.2,358.5 483.3,354 481.3,348.8 479.4,344.3"/>
<polygon class="land" points="499.6,340.4 503.2,339.9 504.3,343 502.2,345.1 499.6,343.5"/>
<polygon class="land" points="524.1,357.2 527.2,357.7 530.3,360.3 533.4,364.4 536.5,368.1 537,369.6 535,369.1 531.9,365.5 528.8,362.9 526.2,362.4 523.6,363.4 523.1,360.3"/>
<polygon class="land" points="501.9,368.6 504.6,369.5 507.8,371.7 510.1,374 513.7,374.9 517.3,375.8 520,375.3 520.9,377.6 519.1,380.3 516.4,382.6 513.7,385.3 511.4,387.5 508.2,388.9 505.5,389.3 503.3,390.7 501.9,392.5 501,391.1 501.5,388 502.4,384.8 503.3,381.2 503.7,377.1 503.7,373.1 502.4,370.4"/>
<polygon class="land" points="520.9,384.8 524,384.2 526.7,385.3 527.6,388 526.7,391.6 524.9,395.2 523.6,398.8 522.2,402.4 521.3,406 522.2,409.6 523.1,413.2 522.2,416 520,416.9 518.2,415.1 517.3,412.3 515.5,410.5 512.8,409.2 510.1,406.9 509.1,404.2 510.1,402 513.2,401.1 516.4,400.2 517.7,397 518.2,393.4 518.6,389.8 519.5,386.6"/>
<polygon class="land" points="534.4,383.5 536,383 536.4,387.1 536,391.6 534.6,395.4 531.9,398.1 529.6,400.8 527.8,404.4 526.9,408 525.8,409.4 525.2,405.1 526.6,401.1 528.4,397.9 530.6,395.2 532.4,391.6 533.3,387.1"/>
<polygon class="land" points="533.4,401.6 537.5,399 542.2,399 545.3,401.1 544.8,404.7 541.2,406.8 536.5,406.2 533.4,404.2"/>
<polygon class="land" points="543.2,372.2 545.3,373.2 546.3,376.8 548.4,377.9 551,376.8 552.5,379.9 553,384.1 554.1,388.2 556.1,391.3 556.6,395.4 554.6,398 551.5,397.5 549.4,395.4 549.4,391.3 549.9,387.2 547.9,385.1 545.8,383 544.8,378.9 542.2,375.8"/>
<polygon class="land" points="541.2,357.2 545.8,356.2 551,356.2 556.1,356.7 558.7,359.3 560.2,363.4 559.7,367.5 560.8,371.7 562.3,375.8 562.8,378.9 560.2,381 557.2,379.9 555.1,376.8 553.5,373.7 553,369.6 551,368.1 548.9,365.5 545.8,363.4 543.2,360.8"/>
<polygon class="land" points="560.2,405.2 560.9,411 561.5,417.5 558.3,418.2 555.7,417.5 552.4,418.8 549.9,421.4 548.6,424.6 546.6,425.9 543.4,425.3 540.8,427.2 540.2,430.5 536.9,431.7 533.7,433 531.1,435 529.2,436.3 531.1,432.4 533,429.2 532.4,425.3 529.8,423.3 526.6,424 524,425.9 520.8,426.6 519.5,429.8 518.8,433 514.9,433.7 510.4,434.3 507.2,435.6 504.6,438.9 503.3,443.4 502,447.9 501.3,451.2 503.9,453.1 505.9,450.5 507.2,446 509.1,442.1 511.7,439.5 514.9,438.9 516.9,442.1 518.2,444.7 519.5,442.1 521.4,440.2 524,442.1 525.9,443.4 527.2,440.8 529.2,438.2 531.8,437.6 535,438.9 537.6,441.4 539.5,444.7 538.9,449.2 536.9,453.7 536.9,458.9 538.2,462.8 540,466 544,467 550,469 556,470 560,476 564,472 562,466 559,460 560,456 563,452 565,447 568,448 571,454 570,460 573,463 574,456 577,452 580,446 579,438 576,432 575,424 573,418 571.2,414.3 569.3,411.7 566,409.8 562.8,407.8"/>
<polygon class="land" points="500.7,457.6 503.9,456.3 505.2,458.9 503.3,461.2 500.7,460.2"/>
<polygon class="land" points="460.8,388.3 462.1,391.6 459.5,394.2 456.9,396.1 454.3,398.7 451.1,400.6 448.5,401.3 447.2,405.2 445.9,408.4 443.3,411.6 440.1,413.6 437.5,414.9 434.3,417.4 431,420.7 427.8,423.9 424.6,426.5 422,427.8 421.3,425.9 423.3,422.6 426.5,419.4 430.4,415.5 433.6,412.9 437.5,410.3 440.8,407.1 444,403.9 446.6,400.6 448.5,398 451.1,394.8 454.3,392.2 456.9,389.6 458.2,387.7"/>
<polygon class="land" points="287,575 282,565 280,560 282,556 281,550 284,545 288,541 291,537 295,540 301,542 307,540 315,545 319,544 319,536 322,531 323,524 327,521 333,521 341,519 349,518 354,514 357,508 363,502 358.1,506 362.6,503.4 365.9,498.2 367.8,493 371,491.7 374.9,489.8 378.8,487.9 382.7,485.9 386.6,484.6 391.7,483.3 393.7,481.4 391.7,478.8 395.6,476.9 399.5,474.3 403.4,468.5 407.3,463.3 410.5,458.1 413.1,452.3 415,454.2 413.7,458.1 416.3,456.8 418.9,452.9 420.9,452.3 422.8,455.5 425.4,459.4 428.6,462 429.3,466.5 428,470.4 431.8,472.3 435.1,474.3 437.7,471.7 441.4,471.7 445.3,474.9 449.2,478.2 454.3,478.8 456.9,480.8 455,483.3 449.2,484.6 444,485.3 438.2,486.6 436.9,488.5 440.1,489.8 444,491.7 445.9,494.3 443.3,496.3 438.8,497.6 433.6,498.9 431,500.8 430.4,504.7 431.7,508.6 431,512.4 429.1,516.3 430.4,520.2 431.7,526 433,532 436,537 440,542 446,548 451,553 446,555 438,552 433,552 431,560 427,569 426,575"/>
<polygon class="land" points="466,572 467,563 472,556 478,555 482,550 488,548 494,551 504,554 514,556 524,555 534,554 540,552 544,548 548,544 554,541 557,544 554,549 549,555 545,560 538,563 528,565 522,563 514,561 504,560 494,561 484,562 476,562 472,565 471,572"/>
<polygon class="land" points="266,504 269,500 272.6,503.6 269.4,508"/>
<polygon class="land" points="608.3,527.5 612.9,526 615.2,529.8 613.6,535.2 609.8,536 607.5,532.1"/>
<polygon class="land" points="599,536 602.9,534.4 603.7,539 602.1,543.6 603.7,548.2 602.1,552.8 601.3,555.6 603.7,551.3 606,546.7 612.1,543.6 615.9,544.4 615.2,549.8 612.1,553.6 608.3,557.4 606,560.5 610.6,561.3 614.4,562.8 613.6,565.1 607.5,563.6 602.9,562 600.6,565.1 601.3,572 598.7,572 597.5,565.1 596.7,560.5 598.3,556.7 596,553.6 594.4,548.2 596,542.1 597.5,538.3"/>
<polygon class="land" points="581.7,494.5 583.7,493 584.8,496.8 583.7,499.9 582.2,499.1"/>
<polygon class="land" points="582.6,501.4 584.2,501.1 584.5,506 582.9,506.5"/>
<polygon class="land" points="560.7,507.6 563,506.8 564.2,510.2 562.7,512.6 560.9,511.1"/>
<polygon class="land" points="538.2,331.3 539.8,330.6 541.4,332.9 542,335.5 540.4,338.1 538.2,338.4 537.2,336.8 538.2,334.2"/>
<polygon class="land" points="509.9,357.7 513,357.3 514.3,359.3 512.8,361.1 510.4,360.1"/>
<polygon class="land" points="534.4,351 537,350 538.6,353.1 537,355.7 535,354.1"/>
<polygon class="land" points="200.893,551.746 205.032,550.712 208.913,552.005 209.56,555.627 206.326,557.568 201.798,556.921"/>
<polygon class="land" points="166.611,545.019 170.103,544.631 172.691,548.124 172.044,551.488 168.81,550.712 166.869,547.865"/>
<polygon class="land" points="173.338,552.005 177.219,551.488 181.1,554.334 181.746,556.921 177.865,556.662 174.631,554.981"/>
<polygon class="land" points="418.3,446.2 420.9,445.2 422.8,447.1 421.5,449.3 418.9,448.8"/>
<polygon class="land" points="511.4,391.1 512.8,388.9 514.1,388.7 513.2,391.1 511.9,392.5"/>
<polyline class="bd" points="112,168 122,169.4 123,172 120,173 118,180 117,186 122,188 129,189 131,194 134,198 140,199 145,195 149,194 150,198"/>
<polyline class="bd" points="150,198 152,203 159,203.6 161,198 160,190 157,185 159,180 163,182 168,181"/>
<polyline class="bd" points="168,181 172,175 177,177 182,181 186,176 189,177 192,175 198,179 201,175 206,174 212,168 220,163.6 226,169 231,171.6 238,172.4 244,174 243,181 244,187 250,192 258,195 265,197"/>
<polyline class="bd" points="168,181 174,189 178,193 180,197 179,202 183,209 189,211 193,213 196,209 201,208 206,212 208,217 214,223 213,227 208,230 200,231 196,237 204,241 214,248 218,254 224,258 230,266 238,274 242,283 250,293 254,298 260,309 257,316 254,321"/>
<polyline class="bd" points="150,198 143,202 140,208 134,211 133,218"/>
<polyline class="bd" points="133,218 128,218 122,220 121,223 112,225.6"/>
<polyline class="bd" points="133,218 137,221 140,225 138,230 141,233 151,233 153,242 149,248 150,258 146,268 149,270 157,264 164,258 169,257.6 176,264 181,260 186,254 192,253.6 198,256 203,263 210,270 212,276 212,283 216,291 224,303 225,322 218,326"/>
<polyline class="bd" points="218,326 210,324 190,324.6 180,326 170,339 172,351 176,359 174,363"/>
<polyline class="bd" points="218,326 230,331 238,323 250,325 254,321"/>
<polyline class="bd" points="254,321 258,333 259,345 257,357 250,362 240,367 230,371 229,377 234,383 222,387 216,388 206,392 206,396"/>
<polyline class="bd" points="112,331 116,335 117,347 121,361 125,371 120,377 116,383 112,387"/>
<polyline class="bd" points="134,457 140,459 145,464 148,466 147,471 150,474 155,471 162,471 165,467 166,465"/>
<polyline class="bd" points="371,491.7 373,496.9 375.6,500.8 378.8,502.1 380.8,496.9 381.4,491.7 382.7,486.6"/>
<polyline class="bd" points="384.6,488.5 385.3,494.3 388.5,496.9 389.8,497.6 387.9,491.7 387.2,487.2"/>
<polyline class="bd" points="430.4,497.6 423.3,498.2 412.9,496.9 400,496.3 398.2,497.6 395,500.8 393.7,504.7 394.3,509.9 393,514.4 391.7,518.9 387.9,520.2 385.9,522.8 385.3,526 386,528 381,532 381,538 377,545 369,546 363,549 353,546 349,544 337,545 335,550 331,552 319,553 312,555 307,555 301,548 295,543 291,537"/>
<polyline class="bd" points="301,163 303,160 308,162 314,163.6 322,162"/>
<polyline fill="none" stroke="#000" stroke-width="1" stroke-dasharray="2 2" points="230,315.6 230,325 231,339 232,349 232.6,358.6"/>
<polyline fill="none" stroke="#000" stroke-width="1" stroke-dasharray="3 2" points="211.5,366.4 215.4,374.2 217.3,382 219.3,387.9 224.2,393.8 229.1,399.6 234.9,405.5 238.8,407.4"/>
<polyline fill="none" stroke="#000" stroke-width="1" stroke-dasharray="2 2" points="217.3,386 225.2,391.8 233,397.7 238.8,403.5"/>
<polyline fill="none" stroke="#000" stroke-width="1" stroke-dasharray="2 2" points="211.5,366.4 218,364 225.2,362.5"/>
<polyline fill="none" stroke="#000" stroke-width="3" stroke-dasharray="3 1 2 2" points="501,40 495,50 497,60 496,68"/>
<polyline fill="none" stroke="#000" stroke-width="5" stroke-dasharray="2 2" points="494,46 496,56"/>
<polyline fill="none" stroke="#000" stroke-width="2" stroke-dasharray="3 2 1 1" points="490,73 482,78 479,86 474,94"/>
<polyline fill="none" stroke="#000" stroke-width="5" stroke-dasharray="3 1" points="470,99 463,102 466,108"/>
<polyline fill="none" stroke="#000" stroke-width="3" stroke-dasharray="2 1 3 2" points="465,112 462,120 456,125"/>
<polyline fill="none" stroke="#000" stroke-width="5" stroke-dasharray="3 1 2 1" points="454,127 450,133 444,137"/>
<polyline fill="none" stroke="#000" stroke-width="4" stroke-dasharray="2 1 3 1" points="442,139 436,145 431,149"/>
<polyline fill="none" stroke="#000" stroke-width="3" stroke-dasharray="3 1 1 1" points="429,151 424,156 420,160 413,163"/>
<polyline fill="none" stroke="#000" stroke-width="2" stroke-dasharray="2 2 3 1" points="409,166 402,172 390,175"/>
<polyline fill="none" stroke="#000" stroke-width="5" stroke-dasharray="4 1 2 1" points="377,178 370,184 365,186"/>
<polyline fill="none" stroke="#000" stroke-width="3" stroke-dasharray="2 2" points="352,190 346,194 340,192"/>
<polyline fill="none" stroke="#000" stroke-width="2" stroke-dasharray="3 3 2 2" points="338,193 328,195 318,199 308,201"/>
<polyline fill="none" stroke="#000" stroke-width="2" stroke-dasharray="2 2" points="305,203 305,212"/>
<polyline fill="none" stroke="#000" stroke-width="2" stroke-dasharray="3 2" points="297,200 291,196 284,198 279,196 273,193"/>
<polyline fill="none" stroke="#000" stroke-width="5" stroke-dasharray="4 1 3 1" points="264,198 257,201 250,205 244,207"/>
<polyline fill="none" stroke="#000" stroke-width="2" stroke-dasharray="2 2" points="241,212 240,220"/>
<polyline fill="none" stroke="#000" stroke-width="4" stroke-dasharray="3 2 2 1" points="431,500 431,508 430,514 430,522"/>
<polyline fill="none" stroke="#000" stroke-width="3" points="426,470 430,473"/>
<polyline fill="none" stroke="#000" stroke-width="4" stroke-dasharray="3 1" points="459,379 457,384 460,388"/>
<polyline fill="none" stroke="#000" stroke-width="5" stroke-dasharray="2 1 3 1" points="468,362 471,366 469,370"/>
<polyline fill="none" stroke="#000" stroke-width="3" points="419,431 422,428"/>
<polyline fill="none" stroke="#000" stroke-width="2" stroke-dasharray="2 1" points="356,172 355,180"/>
<polyline fill="none" stroke="#000" stroke-width="2" stroke-dasharray="1 1" points="366,176 364,184"/>
<polyline fill="none" stroke="#000" stroke-width="2" stroke-dasharray="2 1" points="319.5,532 318.5,538"/>
<polyline fill="none" stroke="#000" stroke-width="2" points="500,42 494,50 496,60 495,69 489,73"/>
<polyline fill="none" stroke="#000" stroke-width="3" stroke-dasharray="3 2" points="497,47 498,58"/>
<polyline fill="none" stroke="#000" stroke-width="3" stroke-dasharray="4 1 2 1" points="481,78 479,85 474,93 469,99"/>
<polyline fill="none" stroke="#000" stroke-width="3" stroke-dasharray="5 1" points="462,103 465,109 462,119"/>
<polyline fill="none" stroke="#000" stroke-width="3" stroke-dasharray="4 1 3 1 2 1" points="457,124 452,130 446,136 438,142 432,148 425,155"/>
<polyline fill="none" stroke="#000" stroke-width="5" stroke-dasharray="3 1" points="448,131 443,137"/>
<polyline fill="none" stroke="#000" stroke-width="5" stroke-dasharray="2 1" points="436,141 431,146"/>
<polyline fill="none" stroke="#000" stroke-width="2" stroke-dasharray="3 1" points="418,161 411,164 409,169 402,172"/>
<polyline fill="none" stroke="#000" stroke-width="4" points="376,179 369,185"/>
<polyline fill="none" stroke="#000" stroke-width="3" stroke-dasharray="2 1" points="372,175 367,180"/>
<polygon class="blk" points="463.2,160 462.1,161.5 459.9,161.5 458.8,160 459.9,158.5 462.1,158.5"/>
<polygon class="blk" points="460.5,162 459.8,163 458.2,163 457.5,162 458.2,161 459.8,161"/>
<polygon class="blk" points="464.2,158 463.6,158.8 462.4,158.8 461.8,158 462.4,157.2 463.6,157.2"/>
<polygon class="blk" points="501.2,210 500.6,210.8 499.4,210.8 498.8,210 499.4,209.2 500.6,209.2"/>
<polygon class="blk" points="502.6,218 501.8,219.1 500.2,219.1 499.4,218 500.2,216.9 501.8,216.9"/>
<polygon class="blk" points="494.5,237 493.8,238 492.2,238 491.5,237 492.2,236 493.8,236"/>
<polygon class="blk" points="502.3,233 501.6,233.9 500.4,233.9 499.7,233 500.4,232.1 501.6,232.1"/>
<polygon class="blk" points="491.4,244 490.7,245 489.3,245 488.6,244 489.3,243 490.7,243"/>
<polygon class="blk" points="502.8,244 501.9,245.2 500.1,245.2 499.2,244 500.1,242.8 501.9,242.8"/>
<polygon class="blk" points="526,146 525,147.4 523,147.4 522,146 523,144.6 525,144.6"/>
<polygon class="blk" points="529.5,144 528.8,145 527.2,145 526.5,144 527.2,143 528.8,143"/>
<polygon class="blk" points="522.2,148 521.6,148.8 520.4,148.8 519.8,148 520.4,147.2 521.6,147.2"/>
<polygon class="blk" points="558,138 557,139.4 555,139.4 554,138 555,136.6 557,136.6"/>
<polygon class="blk" points="513.8,140 513.4,140.6 512.6,140.6 512.2,140 512.6,139.4 513.4,139.4"/>
<polygon class="blk" points="609,100 608,101.4 606,101.4 605,100 606,98.6 608,98.6"/>
<polygon class="blk" points="613,96 612,97.4 610,97.4 609,96 610,94.6 612,94.6"/>
<polygon class="blk" points="605,104 604,105.4 602,105.4 601,104 602,102.6 604,102.6"/>
<polygon class="blk" points="600.5,106 599.8,107 598.2,107 597.5,106 598.2,105 599.8,105"/>
<polygon class="blk" points="595.5,108 594.8,109 593.2,109 592.5,108 593.2,107 594.8,107"/>
<polygon class="blk" points="589,107 588.5,107.7 587.5,107.7 587,107 587.5,106.3 588.5,106.3"/>
<polygon class="blk" points="615.5,92 614.8,93 613.2,93 612.5,92 613.2,91 614.8,91"/>
<polygon class="blk" points="630.5,72 629.2,73.7 626.8,73.7 625.5,72 626.8,70.3 629.2,70.3"/>
<polygon class="blk" points="634,68 633,69.4 631,69.4 630,68 631,66.6 633,66.6"/>
<polygon class="blk" points="621.3,80 620.6,80.9 619.4,80.9 618.7,80 619.4,79.1 620.6,79.1"/>
<polygon class="blk" points="614.6,87 613.8,88.1 612.2,88.1 611.4,87 612.2,85.9 613.8,85.9"/>
<polygon class="blk" points="637.2,62 636.6,62.8 635.4,62.8 634.8,62 635.4,61.2 636.6,61.2"/>
<polygon class="blk" points="632,45 631.5,45.7 630.5,45.7 630,45 630.5,44.3 631.5,44.3"/>
<polygon class="blk" points="637,40 636.5,40.7 635.5,40.7 635,40 635.5,39.3 636.5,39.3"/>
<polygon class="blk" points="460.4,489.8 459.6,490.8 458.1,490.8 457.4,489.8 458.1,488.8 459.6,488.8"/>
<polygon class="blk" points="466.5,488.5 465.9,489.3 464.7,489.3 464.1,488.5 464.7,487.7 465.9,487.7"/>
<polygon class="blk" points="469.8,482.7 468.9,483.9 467.1,483.9 466.2,482.7 467.1,481.5 468.9,481.5"/>
<polygon class="blk" points="473.8,480 472.9,481.2 471.1,481.2 470.2,480 471.1,478.8 472.9,478.8"/>
<polygon class="blk" points="479.1,463.3 478.4,464.3 476.9,464.3 476.1,463.3 476.9,462.3 478.4,462.3"/>
<polygon class="blk" points="484.3,465.9 483.6,466.9 482.1,466.9 481.3,465.9 482.1,464.9 483.6,464.9"/>
<polygon class="blk" points="489.2,469 488.1,470.5 485.9,470.5 484.8,469 485.9,467.5 488.1,467.5"/>
<polygon class="blk" points="493,470 492,471.4 490,471.4 489,470 490,468.6 492,468.6"/>
<polygon class="blk" points="485.5,474.3 484.8,475.3 483.2,475.3 482.5,474.3 483.2,473.3 484.8,473.3"/>
<polygon class="blk" points="483,477.5 482.2,478.5 480.8,478.5 480,477.5 480.8,476.5 482.2,476.5"/>
<polygon class="blk" points="477.8,481.4 477.1,482.4 475.6,482.4 474.8,481.4 475.6,480.4 477.1,480.4"/>
<polygon class="blk" points="503,458.5 502.5,459.2 501.5,459.2 501,458.5 501.5,457.8 502.5,457.8"/>
<polygon class="blk" points="471,465 470.5,465.7 469.5,465.7 469,465 469.5,464.3 470.5,464.3"/>
<polygon class="blk" points="475,471 474.5,471.7 473.5,471.7 473,471 473.5,470.3 474.5,470.3"/>
<polygon class="blk" points="234.5,516 233.2,517.7 230.8,517.7 229.5,516 230.8,514.3 233.2,514.3"/>
<polygon class="blk" points="238,513 237,514.4 235,514.4 234,513 235,511.6 237,511.6"/>
<polygon class="blk" points="229.8,519 228.9,520.2 227.1,520.2 226.2,519 227.1,517.8 228.9,517.8"/>
<polygon class="blk" points="236.2,520 235.6,520.8 234.4,520.8 233.8,520 234.4,519.2 235.6,519.2"/>
<polygon class="blk" points="243.5,423 242.8,424 241.2,424 240.5,423 241.2,422 242.8,422"/>
<polygon class="blk" points="200.2,522 199.6,522.8 198.4,522.8 197.8,522 198.4,521.2 199.6,521.2"/>
<polygon class="blk" points="205,528 204.5,528.7 203.5,528.7 203,528 203.5,527.3 204.5,527.3"/>
<polygon class="blk" points="281,520 280.5,520.7 279.5,520.7 279,520 279.5,519.3 280.5,519.3"/>
<polygon class="blk" points="284,527 283.5,527.7 282.5,527.7 282,527 282.5,526.3 283.5,526.3"/>
<polygon class="blk" points="275.8,524 275.4,524.6 274.6,524.6 274.2,524 274.6,523.4 275.4,523.4"/>
<polygon class="blk" points="564,523 563.5,523.7 562.5,523.7 562,523 562.5,522.3 563.5,522.3"/>
<polygon class="blk" points="563,530 562.5,530.7 561.5,530.7 561,530 561.5,529.3 562.5,529.3"/>
<polygon class="blk" points="562,536 561.5,536.7 560.5,536.7 560,536 560.5,535.3 561.5,535.3"/>
<polygon class="blk" points="472.5,363 471.8,364 470.2,364 469.5,363 470.2,362 471.8,362"/>
<polygon class="blk" points="468.5,367 467.8,368 466.2,368 465.5,367 466.2,366 467.8,366"/>
<polygon class="blk" points="483,377 482.5,377.7 481.5,377.7 481,377 481.5,376.3 482.5,376.3"/>
<polygon class="blk" points="486,381 485.5,381.7 484.5,381.7 484,381 484.5,380.3 485.5,380.3"/>
<polygon class="blk" points="493,386 492.5,386.7 491.5,386.7 491,386 491.5,385.3 492.5,385.3"/>
<polygon class="blk" points="479,386 478.5,386.7 477.5,386.7 477,386 477.5,385.3 478.5,385.3"/>
<polygon class="blk" points="504.2,357 503.6,357.8 502.4,357.8 501.8,357 502.4,356.2 503.6,356.2"/>
<polygon class="blk" points="505,361 504.5,361.7 503.5,361.7 503,361 503.5,360.3 504.5,360.3"/>
<polygon class="blk" points="515.2,348 514.6,348.8 513.4,348.8 512.8,348 513.4,347.2 514.6,347.2"/>
<polygon class="blk" points="520,351 519.5,351.7 518.5,351.7 518,351 518.5,350.3 519.5,350.3"/>
<polygon class="blk" points="568,402 567,403.4 565,403.4 564,402 565,400.6 567,400.6"/>
<polygon class="blk" points="571.5,405 570.8,406 569.2,406 568.5,405 569.2,404 570.8,404"/>
<polygon class="blk" points="565.5,399 564.8,400 563.2,400 562.5,399 563.2,398 564.8,398"/>
<polygon class="blk" points="549,414.5 548.5,415.2 547.5,415.2 547,414.5 547.5,413.8 548.5,413.8"/>
<polygon class="blk" points="530,414 529.5,414.7 528.5,414.7 528,414 528.5,413.3 529.5,413.3"/>
<polygon class="blk" points="540.2,346 539.6,346.8 538.4,346.8 537.8,346 538.4,345.2 539.6,345.2"/>
<polygon class="blk" points="546.2,349 545.6,349.8 544.4,349.8 543.8,349 544.4,348.2 545.6,348.2"/>
<polygon class="blk" points="190.543,545.537 194.683,544.631 199.211,545.278 202.445,546.831 201.798,550.712 197.27,551.746 193.389,551.1 190.802,549.806"/>
<polygon class="blk" points="189.2,555 188.1,556.6 185.8,556.6 184.6,555 185.8,553.4 188.1,553.4"/>
<polygon class="blk" points="196.5,560.8 195.6,562 193.8,562 192.9,560.8 193.8,559.6 195.6,559.6"/>
<polygon class="blk" points="202.2,564.7 201,566.3 198.7,566.3 197.6,564.7 198.7,563.1 201,563.1"/>
<polygon class="blk" points="208.6,564.7 207.5,566.3 205.2,566.3 204,564.7 205.2,563.1 207.5,563.1"/>
<polygon class="blk" points="209.4,568.6 208.5,569.8 206.7,569.8 205.8,568.6 206.7,567.3 208.5,567.3"/>
<polygon class="blk" points="193.5,567.3 192.8,568.2 191.4,568.2 190.7,567.3 191.4,566.3 192.8,566.3"/>
<polygon class="blk" points="198.7,557.6 198,558.5 196.6,558.5 195.9,557.6 196.6,556.6 198,556.6"/>
<polygon class="blk" points="190.1,559.5 189.5,560.3 188.3,560.3 187.7,559.5 188.3,558.7 189.5,558.7"/>
<polygon class="blk" points="204.3,560.8 203.7,561.6 202.5,561.6 201.9,560.8 202.5,560 203.7,560"/>
<polygon class="blk" points="211.9,560.8 211.4,561.5 210.4,561.5 209.9,560.8 210.4,560.1 211.4,560.1"/>
<polygon class="blk" points="195.4,548.9 195.4,549 195.3,549 195.2,548.9 195.3,548.8 195.4,548.8"/>
<polygon class="blk" points="561.1,523.7 560.5,524.5 559.3,524.5 558.7,523.7 559.3,522.8 560.5,522.8"/>
<polygon class="blk" points="560.2,530.6 559.7,531.3 558.7,531.3 558.2,530.6 558.7,529.9 559.7,529.9"/>
<polygon class="blk" points="560.2,534.4 559.7,535.1 558.7,535.1 558.2,534.4 558.7,533.7 559.7,533.7"/>
<polygon class="blk" points="594.4,558.2 593.7,559.2 592.2,559.2 591.4,558.2 592.2,557.2 593.7,557.2"/>
<polygon class="blk" points="594.9,562 594.3,562.9 593.1,562.9 592.5,562 593.1,561.2 594.3,561.2"/>
<polygon class="blk" points="419.3,436.5 418.4,437.7 416.6,437.7 415.7,436.5 416.6,435.3 418.4,435.3"/>
<polygon class="blk" points="421,432 420.2,433 418.8,433 418,432 418.8,431 420.2,431"/>
<polygon class="blk" points="419.6,434.5 418.9,435.5 417.5,435.5 416.8,434.5 417.5,433.5 418.9,433.5"/>
<polygon class="blk" points="321.5,523 324.5,523 325,530 322,531"/>
<polygon class="blk" points="504.8,315 503.9,316.2 502.1,316.2 501.2,315 502.1,313.8 503.9,313.8"/>
<polygon class="blk" points="505.5,318.5 504.8,319.5 503.2,319.5 502.5,318.5 503.2,317.5 504.8,317.5"/>
<polygon class="blk" points="503,312.5 502.5,313.2 501.5,313.2 501,312.5 501.5,311.8 502.5,311.8"/>
<polygon class="blk" points="512.2,322.5 511.6,323.3 510.4,323.3 509.8,322.5 510.4,321.7 511.6,321.7"/>
<polygon class="blk" points="517,320.5 516.5,321.2 515.5,321.2 515,320.5 515.5,319.8 516.5,319.8"/>
<path class="tick" shape-rendering="crispEdges" d="M130.5 38v5 M130.5 570v-5 M164.3 38v5 M164.3 570v-5 M198.0 38v5 M198.0 570v-5 M231.8 38v5 M231.8 570v-5 M265.5 38v5 M265.5 570v-5 M299.3 38v5 M299.3 570v-5 M333.1 38v5 M333.1 570v-5 M366.8 38v5 M366.8 570v-5 M400.6 38v5 M400.6 570v-5 M434.3 38v5 M434.3 570v-5 M468.1 38v5 M468.1 570v-5 M501.9 38v5 M501.9 570v-5 M535.6 38v5 M535.6 570v-5 M569.4 38v5 M569.4 570v-5 M603.1 38v5 M603.1 570v-5 M636.9 38v5 M636.9 570v-5 M113 570.5h5 M637 570.5h-5 M113 536.7h5 M637 536.7h-5 M113 502.8h5 M637 502.8h-5 M113 468.9h5 M637 468.9h-5 M113 434.9h5 M637 434.9h-5 M113 400.6h5 M637 400.6h-5 M113 366.2h5 M637 366.2h-5 M113 331.5h5 M637 331.5h-5 M113 296.5h5 M637 296.5h-5 M113 261.2h5 M637 261.2h-5 M113 225.4h5 M637 225.4h-5 M113 189.2h5 M637 189.2h-5 M113 152.5h5 M637 152.5h-5 M113 115.2h5 M637 115.2h-5 M113 77.3h5 M637 77.3h-5 M113 38.6h5 M637 38.6h-5"/>
</g>
<rect x="112" y="37" width="526" height="534" fill="none" stroke="#000" stroke-width="2" shape-rendering="crispEdges"/>
<text class="t" x="375.3" y="19.6" text-anchor="middle" font-size="13" fill="#000060">Significant Wave Height with Wave Direction</text>
<text class="t" x="375.8" y="32" text-anchor="middle" font-size="12" font-style="italic" fill="#000060">Valid For May-12-2007 18:00 GMT</text>
<text class="t lab" x="133.7" y="588" text-anchor="middle">100 E</text>
<text class="t lab" x="218.3" y="588" text-anchor="middle">105 E</text>
<text class="t lab" x="302.8" y="588" text-anchor="middle">110 E</text>
<text class="t lab" x="387.4" y="588" text-anchor="middle">115 E</text>
<text class="t lab" x="472.0" y="588" text-anchor="middle">120 E</text>
<text class="t lab" x="556.6" y="588" text-anchor="middle">125 E</text>
<text class="t lab" x="641.1" y="588" text-anchor="middle">130 E</text>
<text class="t lab" x="646" y="574.3">0</text>
<text class="t lab" x="646" y="489.7">5 N</text>
<text class="t lab" x="646" y="404.4">10 N</text>
<text class="t lab" x="646" y="317.9">15 N</text>
<text class="t lab" x="646" y="229.2">20 N</text>
<text class="t lab" x="646" y="137.7">25 N</text>
<text class="t lab" x="646" y="42.4">30 N</text>
<text x="112.5" y="602" class="ow" font-size="11.8" fill="#000048" stroke="#000048" stroke-width="0.35" textLength="128.3" lengthAdjust="spacingAndGlyphs">oceanweather inc.</text>
<text class="t" x="519" y="599" font-size="8.6" font-style="italic" fill="#08084c" stroke="#08084c" stroke-width="0.25" textLength="118.4" lengthAdjust="spacingAndGlyphs">Plotted at May 12, 2007 12:04 GMT</text>
<rect x="255" y="629" width="241" height="12.5" fill="url(#cbg)"/><rect x="255" y="629" width="2" height="12.5" fill="#000"/>
<text class="t cb" x="305.7" y="613.6" textLength="138.3" lengthAdjust="spacing">Significant Wave Height (Meters)</text>
<text class="t cb" x="311" y="661.6" textLength="129" lengthAdjust="spacing">Significant Wave Height (Feet)</text>
<text class="t cb" x="256.3" y="625.5" text-anchor="middle">0</text>
<text class="t cb" x="276.3" y="625.5" text-anchor="middle">1</text>
<text class="t cb" x="296.3" y="625.5" text-anchor="middle">2</text>
<text class="t cb" x="316.3" y="625.5" text-anchor="middle">3</text>
<text class="t cb" x="336.3" y="625.5" text-anchor="middle">4</text>
<text class="t cb" x="356.3" y="625.5" text-anchor="middle">5</text>
<text class="t cb" x="376.3" y="625.5" text-anchor="middle">6</text>
<text class="t cb" x="396.3" y="625.5" text-anchor="middle">7</text>
<text class="t cb" x="416.3" y="625.5" text-anchor="middle">8</text>
<text class="t cb" x="436.3" y="625.5" text-anchor="middle">9</text>
<text class="t cb" x="456.3" y="625.5" text-anchor="middle">10</text>
<text class="t cb" x="476.3" y="625.5" text-anchor="middle">11</text>
<text class="t cb" x="496.3" y="625.5" text-anchor="middle">12</text>
<text class="t cb" x="256.3" y="649.7" text-anchor="middle">0</text>
<text class="t cb" x="286.3" y="649.7" text-anchor="middle">5</text>
<text class="t cb" x="316.3" y="649.7" text-anchor="middle">10</text>
<text class="t cb" x="346.3" y="649.7" text-anchor="middle">15</text>
<text class="t cb" x="376.3" y="649.7" text-anchor="middle">20</text>
<text class="t cb" x="406.3" y="649.7" text-anchor="middle">25</text>
<text class="t cb" x="436.3" y="649.7" text-anchor="middle">30</text>
<text class="t cb" x="466.3" y="649.7" text-anchor="middle">35</text>
<text class="t cb" x="496.3" y="649.7" text-anchor="middle">40</text>
</svg></body></html>
